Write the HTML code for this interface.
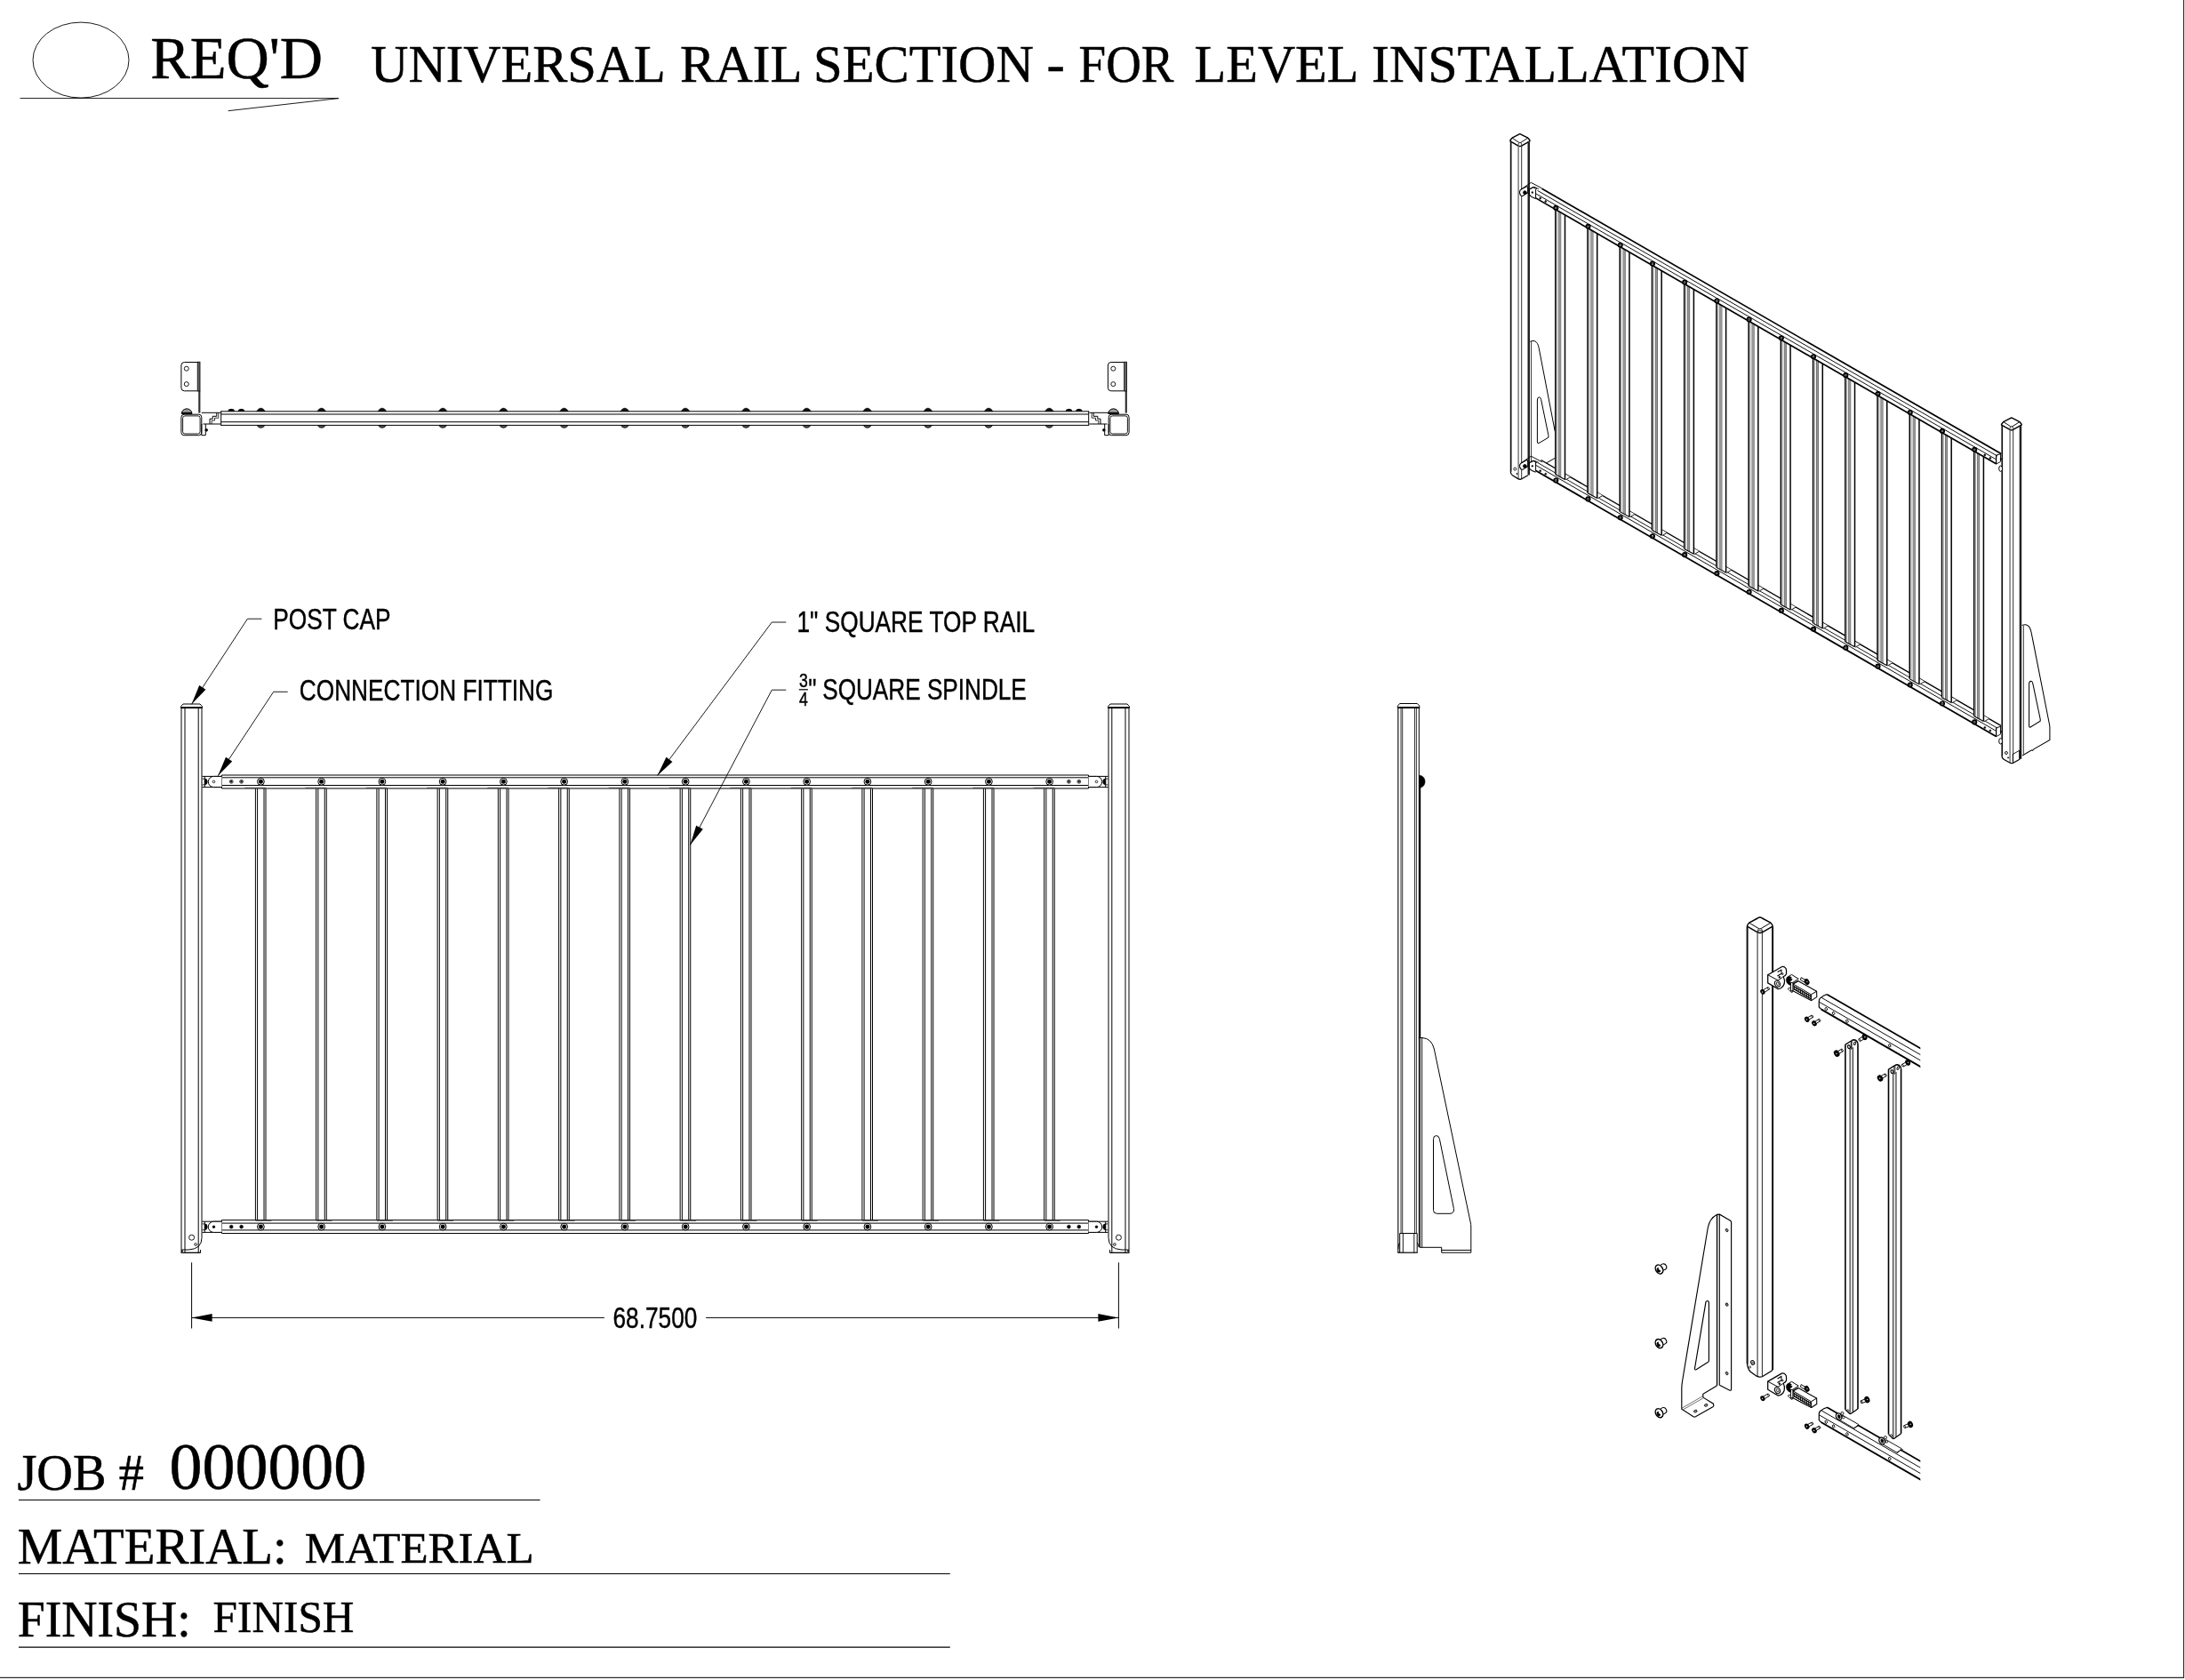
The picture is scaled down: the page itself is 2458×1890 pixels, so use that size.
<!DOCTYPE html>
<html><head><meta charset="utf-8"><title>Universal Rail Section</title>
<style>
html,body{margin:0;padding:0;background:#fff;}
body{width:2458px;height:1890px;overflow:hidden;font-family:"Liberation Sans",sans-serif;}
svg{display:block;position:absolute;left:0;top:0;will-change:transform;}
svg text{fill:#000;}
</style></head><body>
<svg width="2458" height="1890" viewBox="0 0 2458 1890">
<rect x="0" y="0" width="2458" height="1890" fill="#fff"/>
<g id="part_main">
<line x1="2456.50" y1="0.00" x2="2456.50" y2="1887.50" stroke="#2a2a2a" stroke-width="1" />
<line x1="2457.50" y1="0.00" x2="2457.50" y2="1888.00" stroke="#ddd" stroke-width="1" />
<line x1="0.00" y1="1887.40" x2="2457.00" y2="1887.40" stroke="#2a2a2a" stroke-width="1.2" />
<ellipse cx="91.00" cy="67.60" rx="54" ry="42.5" stroke="#000" stroke-width="0.9" fill="none"/>
<line x1="22.50" y1="110.60" x2="381.00" y2="110.60" stroke="#000" stroke-width="0.9" />
<line x1="381.00" y1="110.60" x2="256.70" y2="124.70" stroke="#000" stroke-width="0.9" />
<text x="169.30" y="87.60" font-family="Liberation Serif" font-size="67.6" textLength="193.80" lengthAdjust="spacingAndGlyphs" stroke="#000" stroke-width="0.5">REQ'D</text>
<text x="417.10" y="92.30" font-family="Liberation Serif" font-size="59.5" textLength="331.80" lengthAdjust="spacingAndGlyphs" stroke="#000" stroke-width="0.5">UNIVERSAL</text>
<text x="765.10" y="92.30" font-family="Liberation Serif" font-size="59.5" textLength="137.30" lengthAdjust="spacingAndGlyphs" stroke="#000" stroke-width="0.5">RAIL</text>
<text x="915.10" y="92.30" font-family="Liberation Serif" font-size="59.5" textLength="247.80" lengthAdjust="spacingAndGlyphs" stroke="#000" stroke-width="0.5">SECTION</text>
<text x="1177.60" y="92.30" font-family="Liberation Serif" font-size="59.5" textLength="20.30" lengthAdjust="spacingAndGlyphs" stroke="#000" stroke-width="0.5">-</text>
<text x="1213.60" y="92.30" font-family="Liberation Serif" font-size="59.5" textLength="106.80" lengthAdjust="spacingAndGlyphs" stroke="#000" stroke-width="0.5">FOR</text>
<text x="1343.60" y="92.30" font-family="Liberation Serif" font-size="59.5" textLength="184.80" lengthAdjust="spacingAndGlyphs" stroke="#000" stroke-width="0.5">LEVEL</text>
<text x="1543.10" y="92.30" font-family="Liberation Serif" font-size="59.5" textLength="424.30" lengthAdjust="spacingAndGlyphs" stroke="#000" stroke-width="0.5">INSTALLATION</text>
<text x="19.40" y="1675.70" font-family="Liberation Serif" font-size="56.1" textLength="142.40" lengthAdjust="spacingAndGlyphs" stroke="#000" stroke-width="0.5">JOB #</text>
<text x="190.50" y="1675.30" font-family="Liberation Serif" font-size="73.3" textLength="221.80" lengthAdjust="spacingAndGlyphs" stroke="#000" stroke-width="0.5">000000</text>
<line x1="21.00" y1="1687.50" x2="607.60" y2="1687.50" stroke="#000" stroke-width="1.1" />
<text x="19.80" y="1758.60" font-family="Liberation Serif" font-size="56.0" textLength="303.00" lengthAdjust="spacingAndGlyphs" stroke="#000" stroke-width="0.5">MATERIAL:</text>
<text x="342.80" y="1758.30" font-family="Liberation Serif" font-size="49.3" textLength="257.80" lengthAdjust="spacingAndGlyphs" stroke="#000" stroke-width="0.5">MATERIAL</text>
<line x1="21.00" y1="1770.50" x2="1068.80" y2="1770.50" stroke="#000" stroke-width="1.15" />
<text x="19.80" y="1841.10" font-family="Liberation Serif" font-size="56.1" textLength="195.00" lengthAdjust="spacingAndGlyphs" stroke="#000" stroke-width="0.5">FINISH:</text>
<text x="239.60" y="1836.10" font-family="Liberation Serif" font-size="49.7" textLength="158.80" lengthAdjust="spacingAndGlyphs" stroke="#000" stroke-width="0.5">FINISH</text>
<line x1="21.00" y1="1853.10" x2="1068.80" y2="1853.10" stroke="#000" stroke-width="1.1" />
<line x1="204.00" y1="796.50" x2="204.00" y2="1409.30" stroke="#000" stroke-width="1" />
<line x1="208.00" y1="796.50" x2="208.00" y2="1409.30" stroke="#000" stroke-width="1" />
<line x1="223.20" y1="796.50" x2="223.20" y2="1409.30" stroke="#000" stroke-width="1" />
<line x1="227.00" y1="796.50" x2="227.00" y2="1386.70" stroke="#000" stroke-width="1" />
<path d="M203.60,796.6 L203.60,794.6 L206.00,792 L225.00,792 L227.40,794.6 L227.40,796.6 Z" stroke="#000" stroke-width="1" fill="none" />
<line x1="203.60" y1="795.90" x2="227.40" y2="795.90" stroke="#000" stroke-width="1.6" />
<path d="M227.00,1386.7 L227.00,1392.5 Q227.00,1405.2 212.00,1406 L204.00,1406" stroke="#000" stroke-width="1" fill="none" />
<line x1="203.60" y1="1409.30" x2="225.60" y2="1409.30" stroke="#000" stroke-width="1.3" />
<line x1="225.50" y1="1406.00" x2="225.50" y2="1409.30" stroke="#000" stroke-width="1" />
<line x1="204.00" y1="1407.40" x2="206.00" y2="1407.40" stroke="#000" stroke-width="1.4" />
<circle cx="215.60" cy="1392.20" r="3.0" stroke="#000" stroke-width="0.9" fill="none"/>
<circle cx="220.10" cy="1400.00" r="1.4" stroke="#000" stroke-width="0.8" fill="none"/>
<line x1="1270.00" y1="796.50" x2="1270.00" y2="1409.30" stroke="#000" stroke-width="1" />
<line x1="1266.00" y1="796.50" x2="1266.00" y2="1409.30" stroke="#000" stroke-width="1" />
<line x1="1250.80" y1="796.50" x2="1250.80" y2="1409.30" stroke="#000" stroke-width="1" />
<line x1="1247.00" y1="796.50" x2="1247.00" y2="1386.70" stroke="#000" stroke-width="1" />
<path d="M1270.40,796.6 L1270.40,794.6 L1268.00,792 L1249.00,792 L1246.60,794.6 L1246.60,796.6 Z" stroke="#000" stroke-width="1" fill="none" />
<line x1="1270.40" y1="795.90" x2="1246.60" y2="795.90" stroke="#000" stroke-width="1.6" />
<path d="M1247.00,1386.7 L1247.00,1392.5 Q1247.00,1405.2 1262.00,1406 L1270.00,1406" stroke="#000" stroke-width="1" fill="none" />
<line x1="1270.40" y1="1409.30" x2="1248.40" y2="1409.30" stroke="#000" stroke-width="1.3" />
<line x1="1248.50" y1="1406.00" x2="1248.50" y2="1409.30" stroke="#000" stroke-width="1" />
<line x1="1270.00" y1="1407.40" x2="1268.00" y2="1407.40" stroke="#000" stroke-width="1.4" />
<circle cx="1258.40" cy="1392.20" r="3.0" stroke="#000" stroke-width="0.9" fill="none"/>
<circle cx="1253.90" cy="1400.00" r="1.4" stroke="#000" stroke-width="0.8" fill="none"/>
<line x1="249.50" y1="872.00" x2="1224.50" y2="872.00" stroke="#000" stroke-width="1" />
<line x1="249.50" y1="874.80" x2="1224.50" y2="874.80" stroke="#000" stroke-width="1" />
<line x1="249.50" y1="883.50" x2="1224.50" y2="883.50" stroke="#000" stroke-width="1" />
<line x1="249.50" y1="887.00" x2="1224.50" y2="887.00" stroke="#000" stroke-width="1" />
<line x1="249.50" y1="872.00" x2="249.50" y2="887.00" stroke="#000" stroke-width="1" />
<line x1="1224.50" y1="872.00" x2="1224.50" y2="887.00" stroke="#000" stroke-width="1" />
<line x1="249.50" y1="1372.60" x2="1224.50" y2="1372.60" stroke="#000" stroke-width="1" />
<line x1="249.50" y1="1376.10" x2="1224.50" y2="1376.10" stroke="#000" stroke-width="1" />
<line x1="249.50" y1="1383.90" x2="1224.50" y2="1383.90" stroke="#000" stroke-width="1" />
<line x1="249.50" y1="1387.50" x2="1224.50" y2="1387.50" stroke="#000" stroke-width="1" />
<line x1="249.50" y1="1372.60" x2="249.50" y2="1387.50" stroke="#000" stroke-width="1" />
<line x1="1224.50" y1="1372.60" x2="1224.50" y2="1387.50" stroke="#000" stroke-width="1" />
<line x1="287.40" y1="887.20" x2="287.40" y2="1372.50" stroke="#000" stroke-width="1" />
<line x1="289.60" y1="887.20" x2="289.60" y2="1372.50" stroke="#000" stroke-width="1" />
<line x1="297.00" y1="887.20" x2="297.00" y2="1372.50" stroke="#000" stroke-width="1" />
<line x1="299.00" y1="887.20" x2="299.00" y2="1372.50" stroke="#000" stroke-width="1" />
<line x1="275.40" y1="886.20" x2="299.00" y2="886.20" stroke="#333" stroke-width="0.8" />
<line x1="287.40" y1="1373.30" x2="305.40" y2="1373.30" stroke="#333" stroke-width="0.8" />
<line x1="355.65" y1="887.20" x2="355.65" y2="1372.50" stroke="#000" stroke-width="1" />
<line x1="357.85" y1="887.20" x2="357.85" y2="1372.50" stroke="#000" stroke-width="1" />
<line x1="365.25" y1="887.20" x2="365.25" y2="1372.50" stroke="#000" stroke-width="1" />
<line x1="367.25" y1="887.20" x2="367.25" y2="1372.50" stroke="#000" stroke-width="1" />
<line x1="343.65" y1="886.20" x2="367.25" y2="886.20" stroke="#333" stroke-width="0.8" />
<line x1="355.65" y1="1373.30" x2="373.65" y2="1373.30" stroke="#333" stroke-width="0.8" />
<line x1="423.90" y1="887.20" x2="423.90" y2="1372.50" stroke="#000" stroke-width="1" />
<line x1="426.10" y1="887.20" x2="426.10" y2="1372.50" stroke="#000" stroke-width="1" />
<line x1="433.50" y1="887.20" x2="433.50" y2="1372.50" stroke="#000" stroke-width="1" />
<line x1="435.50" y1="887.20" x2="435.50" y2="1372.50" stroke="#000" stroke-width="1" />
<line x1="411.90" y1="886.20" x2="435.50" y2="886.20" stroke="#333" stroke-width="0.8" />
<line x1="423.90" y1="1373.30" x2="441.90" y2="1373.30" stroke="#333" stroke-width="0.8" />
<line x1="492.15" y1="887.20" x2="492.15" y2="1372.50" stroke="#000" stroke-width="1" />
<line x1="494.35" y1="887.20" x2="494.35" y2="1372.50" stroke="#000" stroke-width="1" />
<line x1="501.75" y1="887.20" x2="501.75" y2="1372.50" stroke="#000" stroke-width="1" />
<line x1="503.75" y1="887.20" x2="503.75" y2="1372.50" stroke="#000" stroke-width="1" />
<line x1="480.15" y1="886.20" x2="503.75" y2="886.20" stroke="#333" stroke-width="0.8" />
<line x1="492.15" y1="1373.30" x2="510.15" y2="1373.30" stroke="#333" stroke-width="0.8" />
<line x1="560.40" y1="887.20" x2="560.40" y2="1372.50" stroke="#000" stroke-width="1" />
<line x1="562.60" y1="887.20" x2="562.60" y2="1372.50" stroke="#000" stroke-width="1" />
<line x1="570.00" y1="887.20" x2="570.00" y2="1372.50" stroke="#000" stroke-width="1" />
<line x1="572.00" y1="887.20" x2="572.00" y2="1372.50" stroke="#000" stroke-width="1" />
<line x1="548.40" y1="886.20" x2="572.00" y2="886.20" stroke="#333" stroke-width="0.8" />
<line x1="560.40" y1="1373.30" x2="578.40" y2="1373.30" stroke="#333" stroke-width="0.8" />
<line x1="628.65" y1="887.20" x2="628.65" y2="1372.50" stroke="#000" stroke-width="1" />
<line x1="630.85" y1="887.20" x2="630.85" y2="1372.50" stroke="#000" stroke-width="1" />
<line x1="638.25" y1="887.20" x2="638.25" y2="1372.50" stroke="#000" stroke-width="1" />
<line x1="640.25" y1="887.20" x2="640.25" y2="1372.50" stroke="#000" stroke-width="1" />
<line x1="616.65" y1="886.20" x2="640.25" y2="886.20" stroke="#333" stroke-width="0.8" />
<line x1="628.65" y1="1373.30" x2="646.65" y2="1373.30" stroke="#333" stroke-width="0.8" />
<line x1="696.90" y1="887.20" x2="696.90" y2="1372.50" stroke="#000" stroke-width="1" />
<line x1="699.10" y1="887.20" x2="699.10" y2="1372.50" stroke="#000" stroke-width="1" />
<line x1="706.50" y1="887.20" x2="706.50" y2="1372.50" stroke="#000" stroke-width="1" />
<line x1="708.50" y1="887.20" x2="708.50" y2="1372.50" stroke="#000" stroke-width="1" />
<line x1="684.90" y1="886.20" x2="708.50" y2="886.20" stroke="#333" stroke-width="0.8" />
<line x1="696.90" y1="1373.30" x2="714.90" y2="1373.30" stroke="#333" stroke-width="0.8" />
<line x1="765.15" y1="887.20" x2="765.15" y2="1372.50" stroke="#000" stroke-width="1" />
<line x1="767.35" y1="887.20" x2="767.35" y2="1372.50" stroke="#000" stroke-width="1" />
<line x1="774.75" y1="887.20" x2="774.75" y2="1372.50" stroke="#000" stroke-width="1" />
<line x1="776.75" y1="887.20" x2="776.75" y2="1372.50" stroke="#000" stroke-width="1" />
<line x1="753.15" y1="886.20" x2="776.75" y2="886.20" stroke="#333" stroke-width="0.8" />
<line x1="765.15" y1="1373.30" x2="783.15" y2="1373.30" stroke="#333" stroke-width="0.8" />
<line x1="833.40" y1="887.20" x2="833.40" y2="1372.50" stroke="#000" stroke-width="1" />
<line x1="835.60" y1="887.20" x2="835.60" y2="1372.50" stroke="#000" stroke-width="1" />
<line x1="843.00" y1="887.20" x2="843.00" y2="1372.50" stroke="#000" stroke-width="1" />
<line x1="845.00" y1="887.20" x2="845.00" y2="1372.50" stroke="#000" stroke-width="1" />
<line x1="821.40" y1="886.20" x2="845.00" y2="886.20" stroke="#333" stroke-width="0.8" />
<line x1="833.40" y1="1373.30" x2="851.40" y2="1373.30" stroke="#333" stroke-width="0.8" />
<line x1="901.65" y1="887.20" x2="901.65" y2="1372.50" stroke="#000" stroke-width="1" />
<line x1="903.85" y1="887.20" x2="903.85" y2="1372.50" stroke="#000" stroke-width="1" />
<line x1="911.25" y1="887.20" x2="911.25" y2="1372.50" stroke="#000" stroke-width="1" />
<line x1="913.25" y1="887.20" x2="913.25" y2="1372.50" stroke="#000" stroke-width="1" />
<line x1="889.65" y1="886.20" x2="913.25" y2="886.20" stroke="#333" stroke-width="0.8" />
<line x1="901.65" y1="1373.30" x2="919.65" y2="1373.30" stroke="#333" stroke-width="0.8" />
<line x1="969.90" y1="887.20" x2="969.90" y2="1372.50" stroke="#000" stroke-width="1" />
<line x1="972.10" y1="887.20" x2="972.10" y2="1372.50" stroke="#000" stroke-width="1" />
<line x1="979.50" y1="887.20" x2="979.50" y2="1372.50" stroke="#000" stroke-width="1" />
<line x1="981.50" y1="887.20" x2="981.50" y2="1372.50" stroke="#000" stroke-width="1" />
<line x1="957.90" y1="886.20" x2="981.50" y2="886.20" stroke="#333" stroke-width="0.8" />
<line x1="969.90" y1="1373.30" x2="987.90" y2="1373.30" stroke="#333" stroke-width="0.8" />
<line x1="1038.15" y1="887.20" x2="1038.15" y2="1372.50" stroke="#000" stroke-width="1" />
<line x1="1040.35" y1="887.20" x2="1040.35" y2="1372.50" stroke="#000" stroke-width="1" />
<line x1="1047.75" y1="887.20" x2="1047.75" y2="1372.50" stroke="#000" stroke-width="1" />
<line x1="1049.75" y1="887.20" x2="1049.75" y2="1372.50" stroke="#000" stroke-width="1" />
<line x1="1026.15" y1="886.20" x2="1049.75" y2="886.20" stroke="#333" stroke-width="0.8" />
<line x1="1038.15" y1="1373.30" x2="1056.15" y2="1373.30" stroke="#333" stroke-width="0.8" />
<line x1="1106.40" y1="887.20" x2="1106.40" y2="1372.50" stroke="#000" stroke-width="1" />
<line x1="1108.60" y1="887.20" x2="1108.60" y2="1372.50" stroke="#000" stroke-width="1" />
<line x1="1116.00" y1="887.20" x2="1116.00" y2="1372.50" stroke="#000" stroke-width="1" />
<line x1="1118.00" y1="887.20" x2="1118.00" y2="1372.50" stroke="#000" stroke-width="1" />
<line x1="1094.40" y1="886.20" x2="1118.00" y2="886.20" stroke="#333" stroke-width="0.8" />
<line x1="1106.40" y1="1373.30" x2="1124.40" y2="1373.30" stroke="#333" stroke-width="0.8" />
<line x1="1174.65" y1="887.20" x2="1174.65" y2="1372.50" stroke="#000" stroke-width="1" />
<line x1="1176.85" y1="887.20" x2="1176.85" y2="1372.50" stroke="#000" stroke-width="1" />
<line x1="1184.25" y1="887.20" x2="1184.25" y2="1372.50" stroke="#000" stroke-width="1" />
<line x1="1186.25" y1="887.20" x2="1186.25" y2="1372.50" stroke="#000" stroke-width="1" />
<line x1="1162.65" y1="886.20" x2="1186.25" y2="886.20" stroke="#333" stroke-width="0.8" />
<line x1="1174.65" y1="1373.30" x2="1192.65" y2="1373.30" stroke="#333" stroke-width="0.8" />
<circle cx="293.40" cy="879.30" r="3.9" stroke="#000" stroke-width="1.0" fill="#fff"/>
<circle cx="293.40" cy="879.30" r="2.3" stroke="#000" stroke-width="0.5" fill="#000"/>
<circle cx="361.65" cy="879.30" r="3.9" stroke="#000" stroke-width="1.0" fill="#fff"/>
<circle cx="361.65" cy="879.30" r="2.3" stroke="#000" stroke-width="0.5" fill="#000"/>
<circle cx="429.90" cy="879.30" r="3.9" stroke="#000" stroke-width="1.0" fill="#fff"/>
<circle cx="429.90" cy="879.30" r="2.3" stroke="#000" stroke-width="0.5" fill="#000"/>
<circle cx="498.15" cy="879.30" r="3.9" stroke="#000" stroke-width="1.0" fill="#fff"/>
<circle cx="498.15" cy="879.30" r="2.3" stroke="#000" stroke-width="0.5" fill="#000"/>
<circle cx="566.40" cy="879.30" r="3.9" stroke="#000" stroke-width="1.0" fill="#fff"/>
<circle cx="566.40" cy="879.30" r="2.3" stroke="#000" stroke-width="0.5" fill="#000"/>
<circle cx="634.65" cy="879.30" r="3.9" stroke="#000" stroke-width="1.0" fill="#fff"/>
<circle cx="634.65" cy="879.30" r="2.3" stroke="#000" stroke-width="0.5" fill="#000"/>
<circle cx="702.90" cy="879.30" r="3.9" stroke="#000" stroke-width="1.0" fill="#fff"/>
<circle cx="702.90" cy="879.30" r="2.3" stroke="#000" stroke-width="0.5" fill="#000"/>
<circle cx="771.15" cy="879.30" r="3.9" stroke="#000" stroke-width="1.0" fill="#fff"/>
<circle cx="771.15" cy="879.30" r="2.3" stroke="#000" stroke-width="0.5" fill="#000"/>
<circle cx="839.40" cy="879.30" r="3.9" stroke="#000" stroke-width="1.0" fill="#fff"/>
<circle cx="839.40" cy="879.30" r="2.3" stroke="#000" stroke-width="0.5" fill="#000"/>
<circle cx="907.65" cy="879.30" r="3.9" stroke="#000" stroke-width="1.0" fill="#fff"/>
<circle cx="907.65" cy="879.30" r="2.3" stroke="#000" stroke-width="0.5" fill="#000"/>
<circle cx="975.90" cy="879.30" r="3.9" stroke="#000" stroke-width="1.0" fill="#fff"/>
<circle cx="975.90" cy="879.30" r="2.3" stroke="#000" stroke-width="0.5" fill="#000"/>
<circle cx="1044.15" cy="879.30" r="3.9" stroke="#000" stroke-width="1.0" fill="#fff"/>
<circle cx="1044.15" cy="879.30" r="2.3" stroke="#000" stroke-width="0.5" fill="#000"/>
<circle cx="1112.40" cy="879.30" r="3.9" stroke="#000" stroke-width="1.0" fill="#fff"/>
<circle cx="1112.40" cy="879.30" r="2.3" stroke="#000" stroke-width="0.5" fill="#000"/>
<circle cx="1180.65" cy="879.30" r="3.9" stroke="#000" stroke-width="1.0" fill="#fff"/>
<circle cx="1180.65" cy="879.30" r="2.3" stroke="#000" stroke-width="0.5" fill="#000"/>
<circle cx="260.20" cy="879.30" r="1.9" stroke="#000" stroke-width="0.8" fill="#fff"/>
<circle cx="260.20" cy="879.30" r="1.05" stroke="#000" stroke-width="0.3" fill="#000"/>
<circle cx="271.60" cy="879.30" r="1.9" stroke="#000" stroke-width="0.8" fill="#fff"/>
<circle cx="271.60" cy="879.30" r="1.05" stroke="#000" stroke-width="0.3" fill="#000"/>
<circle cx="1213.80" cy="879.30" r="1.9" stroke="#000" stroke-width="0.8" fill="#fff"/>
<circle cx="1213.80" cy="879.30" r="1.05" stroke="#000" stroke-width="0.3" fill="#000"/>
<circle cx="1202.40" cy="879.30" r="1.9" stroke="#000" stroke-width="0.8" fill="#fff"/>
<circle cx="1202.40" cy="879.30" r="1.05" stroke="#000" stroke-width="0.3" fill="#000"/>
<circle cx="293.40" cy="1380.10" r="3.9" stroke="#000" stroke-width="1.0" fill="#fff"/>
<circle cx="293.40" cy="1380.10" r="2.3" stroke="#000" stroke-width="0.5" fill="#000"/>
<circle cx="361.65" cy="1380.10" r="3.9" stroke="#000" stroke-width="1.0" fill="#fff"/>
<circle cx="361.65" cy="1380.10" r="2.3" stroke="#000" stroke-width="0.5" fill="#000"/>
<circle cx="429.90" cy="1380.10" r="3.9" stroke="#000" stroke-width="1.0" fill="#fff"/>
<circle cx="429.90" cy="1380.10" r="2.3" stroke="#000" stroke-width="0.5" fill="#000"/>
<circle cx="498.15" cy="1380.10" r="3.9" stroke="#000" stroke-width="1.0" fill="#fff"/>
<circle cx="498.15" cy="1380.10" r="2.3" stroke="#000" stroke-width="0.5" fill="#000"/>
<circle cx="566.40" cy="1380.10" r="3.9" stroke="#000" stroke-width="1.0" fill="#fff"/>
<circle cx="566.40" cy="1380.10" r="2.3" stroke="#000" stroke-width="0.5" fill="#000"/>
<circle cx="634.65" cy="1380.10" r="3.9" stroke="#000" stroke-width="1.0" fill="#fff"/>
<circle cx="634.65" cy="1380.10" r="2.3" stroke="#000" stroke-width="0.5" fill="#000"/>
<circle cx="702.90" cy="1380.10" r="3.9" stroke="#000" stroke-width="1.0" fill="#fff"/>
<circle cx="702.90" cy="1380.10" r="2.3" stroke="#000" stroke-width="0.5" fill="#000"/>
<circle cx="771.15" cy="1380.10" r="3.9" stroke="#000" stroke-width="1.0" fill="#fff"/>
<circle cx="771.15" cy="1380.10" r="2.3" stroke="#000" stroke-width="0.5" fill="#000"/>
<circle cx="839.40" cy="1380.10" r="3.9" stroke="#000" stroke-width="1.0" fill="#fff"/>
<circle cx="839.40" cy="1380.10" r="2.3" stroke="#000" stroke-width="0.5" fill="#000"/>
<circle cx="907.65" cy="1380.10" r="3.9" stroke="#000" stroke-width="1.0" fill="#fff"/>
<circle cx="907.65" cy="1380.10" r="2.3" stroke="#000" stroke-width="0.5" fill="#000"/>
<circle cx="975.90" cy="1380.10" r="3.9" stroke="#000" stroke-width="1.0" fill="#fff"/>
<circle cx="975.90" cy="1380.10" r="2.3" stroke="#000" stroke-width="0.5" fill="#000"/>
<circle cx="1044.15" cy="1380.10" r="3.9" stroke="#000" stroke-width="1.0" fill="#fff"/>
<circle cx="1044.15" cy="1380.10" r="2.3" stroke="#000" stroke-width="0.5" fill="#000"/>
<circle cx="1112.40" cy="1380.10" r="3.9" stroke="#000" stroke-width="1.0" fill="#fff"/>
<circle cx="1112.40" cy="1380.10" r="2.3" stroke="#000" stroke-width="0.5" fill="#000"/>
<circle cx="1180.65" cy="1380.10" r="3.9" stroke="#000" stroke-width="1.0" fill="#fff"/>
<circle cx="1180.65" cy="1380.10" r="2.3" stroke="#000" stroke-width="0.5" fill="#000"/>
<circle cx="260.20" cy="1380.10" r="1.9" stroke="#000" stroke-width="0.6" fill="#000"/>
<circle cx="271.60" cy="1380.10" r="1.9" stroke="#000" stroke-width="0.6" fill="#000"/>
<circle cx="1213.80" cy="1380.10" r="1.9" stroke="#000" stroke-width="0.6" fill="#000"/>
<circle cx="1202.40" cy="1380.10" r="1.9" stroke="#000" stroke-width="0.6" fill="#000"/>
<line x1="227.40" y1="873.40" x2="249.50" y2="873.40" stroke="#000" stroke-width="1" />
<line x1="227.40" y1="885.60" x2="249.50" y2="885.60" stroke="#000" stroke-width="1" />
<line x1="230.30" y1="873.40" x2="230.30" y2="885.60" stroke="#000" stroke-width="1" />
<line x1="227.40" y1="876.10" x2="230.30" y2="876.10" stroke="#000" stroke-width="0.8" />
<line x1="227.40" y1="882.90" x2="230.30" y2="882.90" stroke="#000" stroke-width="0.8" />
<path d="M230.30,876.00 A3,3.4 0 0 1 230.30,882.80 Z" stroke="#000" stroke-width="0.5" fill="#000" />
<path d="M249.50,873.40 L240.40,873.40 A6.1,6.1 0 0 0 240.40,885.60 L249.50,885.60" stroke="#000" stroke-width="1" fill="#fff" />
<circle cx="240.50" cy="879.40" r="1.3" stroke="#000" stroke-width="0.8" fill="none"/>
<line x1="1246.60" y1="873.40" x2="1224.50" y2="873.40" stroke="#000" stroke-width="1" />
<line x1="1246.60" y1="885.60" x2="1224.50" y2="885.60" stroke="#000" stroke-width="1" />
<line x1="1243.70" y1="873.40" x2="1243.70" y2="885.60" stroke="#000" stroke-width="1" />
<line x1="1246.60" y1="876.10" x2="1243.70" y2="876.10" stroke="#000" stroke-width="0.8" />
<line x1="1246.60" y1="882.90" x2="1243.70" y2="882.90" stroke="#000" stroke-width="0.8" />
<path d="M1243.70,876.00 A3,3.4 0 0 0 1243.70,882.80 Z" stroke="#000" stroke-width="0.5" fill="#000" />
<path d="M1224.50,873.40 L1233.60,873.40 A6.1,6.1 0 0 1 1233.60,885.60 L1224.50,885.60" stroke="#000" stroke-width="1" fill="#fff" />
<circle cx="1233.50" cy="879.40" r="1.3" stroke="#000" stroke-width="0.8" fill="none"/>
<line x1="227.40" y1="1374.20" x2="249.50" y2="1374.20" stroke="#000" stroke-width="1" />
<line x1="227.40" y1="1386.40" x2="249.50" y2="1386.40" stroke="#000" stroke-width="1" />
<line x1="230.30" y1="1374.20" x2="230.30" y2="1386.40" stroke="#000" stroke-width="1" />
<line x1="227.40" y1="1376.90" x2="230.30" y2="1376.90" stroke="#000" stroke-width="0.8" />
<line x1="227.40" y1="1383.70" x2="230.30" y2="1383.70" stroke="#000" stroke-width="0.8" />
<path d="M230.30,1376.80 A3,3.4 0 0 1 230.30,1383.60 Z" stroke="#000" stroke-width="0.5" fill="#000" />
<path d="M249.50,1374.20 L240.40,1374.20 A6.1,6.1 0 0 0 240.40,1386.40 L249.50,1386.40" stroke="#000" stroke-width="1" fill="#fff" />
<circle cx="240.50" cy="1380.20" r="1.3" stroke="#000" stroke-width="0.8" fill="#000"/>
<line x1="1246.60" y1="1374.20" x2="1224.50" y2="1374.20" stroke="#000" stroke-width="1" />
<line x1="1246.60" y1="1386.40" x2="1224.50" y2="1386.40" stroke="#000" stroke-width="1" />
<line x1="1243.70" y1="1374.20" x2="1243.70" y2="1386.40" stroke="#000" stroke-width="1" />
<line x1="1246.60" y1="1376.90" x2="1243.70" y2="1376.90" stroke="#000" stroke-width="0.8" />
<line x1="1246.60" y1="1383.70" x2="1243.70" y2="1383.70" stroke="#000" stroke-width="0.8" />
<path d="M1243.70,1376.80 A3,3.4 0 0 0 1243.70,1383.60 Z" stroke="#000" stroke-width="0.5" fill="#000" />
<path d="M1224.50,1374.20 L1233.60,1374.20 A6.1,6.1 0 0 1 1233.60,1386.40 L1224.50,1386.40" stroke="#000" stroke-width="1" fill="#fff" />
<circle cx="1233.50" cy="1380.20" r="1.3" stroke="#000" stroke-width="0.8" fill="#000"/>
<line x1="294.40" y1="696.20" x2="278.40" y2="696.20" stroke="#000" stroke-width="0.9" />
<line x1="278.40" y1="696.20" x2="215.50" y2="792.30" stroke="#000" stroke-width="0.9" />
<polygon points="215.50,792.30 231.42,775.83 224.22,771.12" fill="#000"/>
<line x1="323.70" y1="778.30" x2="307.70" y2="778.30" stroke="#000" stroke-width="0.9" />
<line x1="307.70" y1="778.30" x2="245.20" y2="872.80" stroke="#000" stroke-width="0.9" />
<polygon points="245.20,872.80 261.20,856.41 254.03,851.66" fill="#000"/>
<line x1="884.30" y1="700.00" x2="868.30" y2="700.00" stroke="#000" stroke-width="0.9" />
<line x1="868.30" y1="700.00" x2="739.50" y2="872.40" stroke="#000" stroke-width="0.9" />
<polygon points="739.50,872.40 756.41,856.95 749.52,851.80" fill="#000"/>
<line x1="884.30" y1="776.20" x2="868.30" y2="776.20" stroke="#000" stroke-width="0.9" />
<line x1="868.30" y1="776.20" x2="776.50" y2="950.60" stroke="#000" stroke-width="0.9" />
<polygon points="776.50,950.60 790.79,932.69 783.18,928.69" fill="#000"/>
<text x="307.30" y="707.80" font-family="Liberation Sans" font-size="33.4" textLength="132.20" lengthAdjust="spacingAndGlyphs" stroke="#000" stroke-width="0.45">POST CAP</text>
<text x="336.80" y="788.30" font-family="Liberation Sans" font-size="33.4" textLength="285.60" lengthAdjust="spacingAndGlyphs" stroke="#000" stroke-width="0.45">CONNECTION FITTING</text>
<text x="896.50" y="711.00" font-family="Liberation Sans" font-size="33.4" textLength="267.60" lengthAdjust="spacingAndGlyphs" stroke="#000" stroke-width="0.45">1" SQUARE TOP RAIL</text>
<text x="925.20" y="786.70" font-family="Liberation Sans" font-size="33.4" textLength="229.60" lengthAdjust="spacingAndGlyphs" stroke="#000" stroke-width="0.45">SQUARE SPINDLE</text>
<text x="898.90" y="772.80" font-family="Liberation Sans" font-size="22.4" textLength="9.80" lengthAdjust="spacingAndGlyphs" stroke="#000" stroke-width="0.45">3</text>
<text x="898.90" y="793.90" font-family="Liberation Sans" font-size="22.4" textLength="9.80" lengthAdjust="spacingAndGlyphs" stroke="#000" stroke-width="0.45">4</text>
<line x1="898.80" y1="775.80" x2="908.90" y2="775.80" stroke="#000" stroke-width="1.25" />
<text x="909.30" y="786.70" font-family="Liberation Sans" font-size="33.4" textLength="9.20" lengthAdjust="spacingAndGlyphs" stroke="#000" stroke-width="0.45">"</text>
<line x1="215.60" y1="1420.30" x2="215.60" y2="1494.50" stroke="#000" stroke-width="1" />
<line x1="1258.40" y1="1420.30" x2="1258.40" y2="1494.50" stroke="#000" stroke-width="1" />
<line x1="215.60" y1="1482.40" x2="679.90" y2="1482.40" stroke="#000" stroke-width="1" />
<line x1="794.10" y1="1482.40" x2="1258.40" y2="1482.40" stroke="#000" stroke-width="1" />
<polygon points="215.60,1482.40 238.60,1486.70 238.60,1478.10" fill="#000"/>
<polygon points="1258.40,1482.40 1235.40,1478.10 1235.40,1486.70" fill="#000"/>
<text x="689.50" y="1494.20" font-family="Liberation Sans" font-size="33.4" textLength="94.80" lengthAdjust="spacingAndGlyphs" stroke="#000" stroke-width="0.45">68.7500</text>
<line x1="248.70" y1="462.80" x2="1224.70" y2="462.80" stroke="#000" stroke-width="1" />
<line x1="248.70" y1="466.00" x2="1224.70" y2="466.00" stroke="#000" stroke-width="1" />
<line x1="248.70" y1="474.70" x2="1224.70" y2="474.70" stroke="#000" stroke-width="1" />
<line x1="248.70" y1="478.40" x2="1224.70" y2="478.40" stroke="#000" stroke-width="1" />
<line x1="248.70" y1="462.30" x2="248.70" y2="478.90" stroke="#000" stroke-width="1" />
<line x1="1224.70" y1="462.30" x2="1224.70" y2="478.90" stroke="#000" stroke-width="1" />
<path d="M288.60,462.7 Q289.90,460.6 291.70,459.5 Q293.50,458.5 295.30,459.5 Q297.10,460.6 298.40,462.7 Z" stroke="#000" stroke-width="0.4" fill="#111" />
<path d="M289.30,478.6 Q290.30,481.2 293.50,481.3 Q296.70,481.2 297.70,478.6 Z" stroke="#000" stroke-width="0.9" fill="#555" />
<path d="M356.82,462.7 Q358.12,460.6 359.92,459.5 Q361.72,458.5 363.52,459.5 Q365.32,460.6 366.62,462.7 Z" stroke="#000" stroke-width="0.4" fill="#111" />
<path d="M357.52,478.6 Q358.52,481.2 361.72,481.3 Q364.92,481.2 365.92,478.6 Z" stroke="#000" stroke-width="0.9" fill="#555" />
<path d="M425.04,462.7 Q426.34,460.6 428.14,459.5 Q429.94,458.5 431.74,459.5 Q433.54,460.6 434.84,462.7 Z" stroke="#000" stroke-width="0.4" fill="#111" />
<path d="M425.74,478.6 Q426.74,481.2 429.94,481.3 Q433.14,481.2 434.14,478.6 Z" stroke="#000" stroke-width="0.9" fill="#555" />
<path d="M493.26,462.7 Q494.56,460.6 496.36,459.5 Q498.16,458.5 499.96,459.5 Q501.76,460.6 503.06,462.7 Z" stroke="#000" stroke-width="0.4" fill="#111" />
<path d="M493.96,478.6 Q494.96,481.2 498.16,481.3 Q501.36,481.2 502.36,478.6 Z" stroke="#000" stroke-width="0.9" fill="#555" />
<path d="M561.48,462.7 Q562.78,460.6 564.58,459.5 Q566.38,458.5 568.18,459.5 Q569.98,460.6 571.28,462.7 Z" stroke="#000" stroke-width="0.4" fill="#111" />
<path d="M562.18,478.6 Q563.18,481.2 566.38,481.3 Q569.58,481.2 570.58,478.6 Z" stroke="#000" stroke-width="0.9" fill="#555" />
<path d="M629.70,462.7 Q631.00,460.6 632.80,459.5 Q634.60,458.5 636.40,459.5 Q638.20,460.6 639.50,462.7 Z" stroke="#000" stroke-width="0.4" fill="#111" />
<path d="M630.40,478.6 Q631.40,481.2 634.60,481.3 Q637.80,481.2 638.80,478.6 Z" stroke="#000" stroke-width="0.9" fill="#555" />
<path d="M697.92,462.7 Q699.22,460.6 701.02,459.5 Q702.82,458.5 704.62,459.5 Q706.42,460.6 707.72,462.7 Z" stroke="#000" stroke-width="0.4" fill="#111" />
<path d="M698.62,478.6 Q699.62,481.2 702.82,481.3 Q706.02,481.2 707.02,478.6 Z" stroke="#000" stroke-width="0.9" fill="#555" />
<path d="M766.14,462.7 Q767.44,460.6 769.24,459.5 Q771.04,458.5 772.84,459.5 Q774.64,460.6 775.94,462.7 Z" stroke="#000" stroke-width="0.4" fill="#111" />
<path d="M766.84,478.6 Q767.84,481.2 771.04,481.3 Q774.24,481.2 775.24,478.6 Z" stroke="#000" stroke-width="0.9" fill="#555" />
<path d="M834.36,462.7 Q835.66,460.6 837.46,459.5 Q839.26,458.5 841.06,459.5 Q842.86,460.6 844.16,462.7 Z" stroke="#000" stroke-width="0.4" fill="#111" />
<path d="M835.06,478.6 Q836.06,481.2 839.26,481.3 Q842.46,481.2 843.46,478.6 Z" stroke="#000" stroke-width="0.9" fill="#555" />
<path d="M902.58,462.7 Q903.88,460.6 905.68,459.5 Q907.48,458.5 909.28,459.5 Q911.08,460.6 912.38,462.7 Z" stroke="#000" stroke-width="0.4" fill="#111" />
<path d="M903.28,478.6 Q904.28,481.2 907.48,481.3 Q910.68,481.2 911.68,478.6 Z" stroke="#000" stroke-width="0.9" fill="#555" />
<path d="M970.80,462.7 Q972.10,460.6 973.90,459.5 Q975.70,458.5 977.50,459.5 Q979.30,460.6 980.60,462.7 Z" stroke="#000" stroke-width="0.4" fill="#111" />
<path d="M971.50,478.6 Q972.50,481.2 975.70,481.3 Q978.90,481.2 979.90,478.6 Z" stroke="#000" stroke-width="0.9" fill="#555" />
<path d="M1039.02,462.7 Q1040.32,460.6 1042.12,459.5 Q1043.92,458.5 1045.72,459.5 Q1047.52,460.6 1048.82,462.7 Z" stroke="#000" stroke-width="0.4" fill="#111" />
<path d="M1039.72,478.6 Q1040.72,481.2 1043.92,481.3 Q1047.12,481.2 1048.12,478.6 Z" stroke="#000" stroke-width="0.9" fill="#555" />
<path d="M1107.24,462.7 Q1108.54,460.6 1110.34,459.5 Q1112.14,458.5 1113.94,459.5 Q1115.74,460.6 1117.04,462.7 Z" stroke="#000" stroke-width="0.4" fill="#111" />
<path d="M1107.94,478.6 Q1108.94,481.2 1112.14,481.3 Q1115.34,481.2 1116.34,478.6 Z" stroke="#000" stroke-width="0.9" fill="#555" />
<path d="M1175.46,462.7 Q1176.76,460.6 1178.56,459.5 Q1180.36,458.5 1182.16,459.5 Q1183.96,460.6 1185.26,462.7 Z" stroke="#000" stroke-width="0.4" fill="#111" />
<path d="M1176.16,478.6 Q1177.16,481.2 1180.36,481.3 Q1183.56,481.2 1184.56,478.6 Z" stroke="#000" stroke-width="0.9" fill="#555" />
<path d="M256.60,462.6 A3.6,2.5 0 0 1 263.80,462.6 Z" stroke="#000" stroke-width="0.3" fill="#000" />
<path d="M267.90,462.6 A3.6,2.5 0 0 1 275.10,462.6 Z" stroke="#000" stroke-width="0.3" fill="#000" />
<path d="M1210.20,462.6 A3.6,2.5 0 0 1 1217.40,462.6 Z" stroke="#000" stroke-width="0.3" fill="#000" />
<path d="M1198.90,462.6 A3.6,2.5 0 0 1 1206.10,462.6 Z" stroke="#000" stroke-width="0.3" fill="#000" />
<rect x="203.90" y="466.20" width="22.90" height="23.50" rx="3.2" ry="3.2" fill="none" stroke="#000" stroke-width="1.0"/>
<rect x="205.60" y="467.90" width="19.50" height="20.10" rx="2.4" ry="2.4" fill="none" stroke="#000" stroke-width="0.9"/>
<path d="M204.20,465.4 Q204.60,460.4 210.10,459.8 Q215.60,460.4 216.00,465.4 Z" stroke="#000" stroke-width="1.0" fill="#999" />
<line x1="204.20" y1="464.60" x2="216.00" y2="464.60" stroke="#000" stroke-width="1.5" />
<line x1="224.30" y1="439.80" x2="224.30" y2="464.60" stroke="#333" stroke-width="2.2" />
<path d="M222.20,407.5 L207.40,407.5 Q203.90,407.5 203.90,411 L203.90,436.2 Q203.90,439.8 207.40,439.8 L222.20,439.8" stroke="#000" stroke-width="1" fill="none" />
<rect x="222.20" y="407.2" width="2.8" height="32.8" fill="#666" stroke="#000" stroke-width="0.8"/>
<circle cx="209.80" cy="414.70" r="2.5" stroke="#000" stroke-width="0.9" fill="none"/>
<circle cx="209.80" cy="432.10" r="2.5" stroke="#000" stroke-width="0.9" fill="none"/>
<line x1="226.80" y1="464.30" x2="248.70" y2="464.30" stroke="#000" stroke-width="1" />
<line x1="228.50" y1="477.00" x2="248.70" y2="477.00" stroke="#000" stroke-width="1" />
<path d="M236.00,477.00 L236.00,471.20 L239.20,471.20 L239.20,468.30 L243.80,468.30 L243.80,464.30" stroke="#000" stroke-width="1" fill="none" />
<path d="M238.20,477.00 L238.20,473.00 L241.50,473.00 L241.50,470.20 L245.80,470.20 L245.80,464.30" stroke="#000" stroke-width="0.8" fill="none" />
<path d="M226.80,477.00 L226.80,489.70 L231.30,489.70 L231.30,477.00" stroke="#000" stroke-width="1" fill="none" />
<circle cx="232.20" cy="483.80" r="1.5" stroke="#000" stroke-width="0.5" fill="#000"/>
<rect x="1247.20" y="466.20" width="22.90" height="23.50" rx="3.2" ry="3.2" fill="none" stroke="#000" stroke-width="1.0"/>
<rect x="1248.90" y="467.90" width="19.50" height="20.10" rx="2.4" ry="2.4" fill="none" stroke="#000" stroke-width="0.9"/>
<path d="M1246.70,465.4 Q1247.10,460.4 1252.60,459.8 Q1258.10,460.4 1258.50,465.4 Z" stroke="#000" stroke-width="1.0" fill="#999" />
<line x1="1246.70" y1="464.60" x2="1258.50" y2="464.60" stroke="#000" stroke-width="1.5" />
<line x1="1266.80" y1="439.80" x2="1266.80" y2="464.60" stroke="#333" stroke-width="2.2" />
<path d="M1264.70,407.5 L1249.90,407.5 Q1246.40,407.5 1246.40,411 L1246.40,436.2 Q1246.40,439.8 1249.90,439.8 L1264.70,439.8" stroke="#000" stroke-width="1" fill="none" />
<rect x="1264.70" y="407.2" width="2.8" height="32.8" fill="#666" stroke="#000" stroke-width="0.8"/>
<circle cx="1252.30" cy="414.70" r="2.5" stroke="#000" stroke-width="0.9" fill="none"/>
<circle cx="1252.30" cy="432.10" r="2.5" stroke="#000" stroke-width="0.9" fill="none"/>
<line x1="1247.20" y1="464.30" x2="1225.30" y2="464.30" stroke="#000" stroke-width="1" />
<line x1="1245.50" y1="477.00" x2="1225.30" y2="477.00" stroke="#000" stroke-width="1" />
<path d="M1238.00,477.00 L1238.00,471.20 L1234.80,471.20 L1234.80,468.30 L1230.20,468.30 L1230.20,464.30" stroke="#000" stroke-width="1" fill="none" />
<path d="M1235.80,477.00 L1235.80,473.00 L1232.50,473.00 L1232.50,470.20 L1228.20,470.20 L1228.20,464.30" stroke="#000" stroke-width="0.8" fill="none" />
<path d="M1247.20,477.00 L1247.20,489.70 L1242.70,489.70 L1242.70,477.00" stroke="#000" stroke-width="1" fill="none" />
<circle cx="1241.80" cy="483.80" r="1.5" stroke="#000" stroke-width="0.5" fill="#000"/>
<line x1="1572.80" y1="796.40" x2="1572.80" y2="1409.20" stroke="#000" stroke-width="1.1" />
<line x1="1576.00" y1="796.40" x2="1576.00" y2="1387.50" stroke="#000" stroke-width="0.8" />
<line x1="1577.70" y1="796.40" x2="1577.70" y2="1387.50" stroke="#000" stroke-width="0.8" />
<line x1="1591.50" y1="796.40" x2="1591.50" y2="1387.50" stroke="#000" stroke-width="0.8" />
<line x1="1593.40" y1="796.40" x2="1593.40" y2="1387.50" stroke="#000" stroke-width="0.8" />
<line x1="1596.30" y1="796.40" x2="1596.30" y2="1403.30" stroke="#000" stroke-width="1.0" />
<line x1="1597.40" y1="886.00" x2="1597.40" y2="1167.50" stroke="#000" stroke-width="1.6" />
<line x1="1597.60" y1="1167.50" x2="1597.60" y2="1403.30" stroke="#000" stroke-width="0.9" />
<line x1="1599.70" y1="1168.00" x2="1599.70" y2="1403.30" stroke="#000" stroke-width="0.9" />
<path d="M1572.3,796.5 L1572.3,794.2 L1574.6,791.5 L1594.4,791.5 L1596.8,794.2 L1596.8,796.5 Z" stroke="#000" stroke-width="1" fill="none" />
<line x1="1572.30" y1="795.80" x2="1596.80" y2="795.80" stroke="#000" stroke-width="1.6" />
<path d="M1596.6,872.2 C1601,872.6 1603,876 1603,879.3 C1603,882.6 1601,886 1596.6,886.4 Z" stroke="#000" stroke-width="0.6" fill="#000" />
<path d="M1595.8,1167.5 L1600,1167.5 Q1610.5,1168.2 1613.3,1180 L1654.2,1375 Q1654.8,1377.5 1654.8,1380 L1654.8,1409.2 L1621.7,1409.2 L1621.7,1403.3 L1597,1403.3" stroke="#000" stroke-width="1" fill="none" />
<line x1="1621.70" y1="1406.40" x2="1654.80" y2="1406.40" stroke="#000" stroke-width="1" />
<path d="M1612.5,1281.5 Q1612.5,1277.6 1615.8,1277.6 Q1618.6,1277.6 1619.4,1281.3 L1635.4,1359.5 Q1636.2,1365.3 1631,1365.3 L1616.5,1365.3 Q1612.5,1365.3 1612.5,1361.5 Z" stroke="#000" stroke-width="1" fill="none" />
<path d="M1574.7,1409.2 L1574.7,1387.5 L1594.2,1387.5 L1594.2,1409.2" stroke="#000" stroke-width="1" fill="none" />
<line x1="1578.30" y1="1387.50" x2="1578.30" y2="1409.20" stroke="#000" stroke-width="0.9" />
<line x1="1590.80" y1="1387.50" x2="1590.80" y2="1409.20" stroke="#000" stroke-width="0.9" />
<line x1="1572.30" y1="1409.20" x2="1594.60" y2="1409.20" stroke="#000" stroke-width="1.2" />
<path d="M1574.7,1398 Q1572.6,1401 1572.8,1405" stroke="#000" stroke-width="0.9" fill="none" />
<path d="M1594.2,1398 Q1596,1401 1596.2,1403" stroke="#000" stroke-width="0.9" fill="none" />
</g>
<g id="part_iso">
<path d="M1721.3,384.2 Q1726.8,381.8 1729.6,386.6 Q1730.6,388.6 1731.2,391.5 L1749.2,485" stroke="#000" stroke-width="1.0" fill="none" />
<path d="M1729.4,450 Q1729.4,447 1731.6,446.8 Q1733,446.8 1733.6,449.3 L1741.9,489.6 L1741.9,492.2 L1731,498.6 Q1729.4,499.2 1729.4,497 Z" stroke="#000" stroke-width="1.0" fill="none" />
<line x1="1739.50" y1="520.90" x2="1749.20" y2="515.40" stroke="#000" stroke-width="1.0" />
<line x1="1722.60" y1="384.00" x2="1722.60" y2="519.00" stroke="#000" stroke-width="0.8" />
<path d="M2274.6,703.4 Q2280.6,701.2 2283.2,706 Q2284.3,708 2285,711 L2305.6,815.5 Q2305.9,817 2305.9,818.5 L2305.9,832.4 L2287.8,842.8 L2286.6,844.4 L2285.6,843.9 L2275,850" stroke="#000" stroke-width="1.05" fill="none" />
<path d="M2282.6,769.5 Q2282.6,766.5 2284.8,766.3 Q2286.2,766.3 2286.8,768.8 L2295.2,809 L2295.2,811.2 L2284.2,818 Q2282.6,818.6 2282.6,816.4 Z" stroke="#000" stroke-width="1.05" fill="none" />
<line x1="2276.30" y1="704.00" x2="2276.30" y2="848.50" stroke="#000" stroke-width="0.8" />
<line x1="1733.50" y1="517.50" x2="2251.00" y2="816.30" stroke="#000" stroke-width="1.4" />
<line x1="1729.50" y1="520.39" x2="2247.00" y2="819.19" stroke="#000" stroke-width="0.9" />
<polygon points="1749.80,235.61 1760.50,241.79 1760.50,539.60 1749.80,533.80" fill="#fff"/>
<polygon points="1760.50,533.20 1766.70,536.70 1761.30,540.00 1760.50,539.60" fill="#fff"/>
<line x1="1761.10" y1="539.90" x2="1766.50" y2="536.70" stroke="#000" stroke-width="0.9" />
<line x1="1749.80" y1="236.40" x2="1749.80" y2="533.80" stroke="#000" stroke-width="1.5" />
<line x1="1751.60" y1="237.15" x2="1751.60" y2="534.80" stroke="#555" stroke-width="0.6" />
<line x1="1753.80" y1="237.92" x2="1753.80" y2="536.00" stroke="#444" stroke-width="1.0" />
<line x1="1755.70" y1="239.02" x2="1755.70" y2="537.10" stroke="#444" stroke-width="1.0" />
<rect x="1753.80" y="239.02" width="1.9" height="296.98" fill="#999"/>
<line x1="1760.50" y1="241.79" x2="1760.50" y2="539.60" stroke="#000" stroke-width="1.5" />
<line x1="1749.80" y1="533.80" x2="1760.50" y2="539.60" stroke="#000" stroke-width="1.1" />
<polygon points="1786.02,256.53 1796.72,262.71 1796.72,560.51 1786.02,554.71" fill="#fff"/>
<polygon points="1796.72,554.12 1802.92,557.62 1797.52,560.91 1796.72,560.51" fill="#fff"/>
<line x1="1797.32" y1="560.81" x2="1802.72" y2="557.62" stroke="#000" stroke-width="0.9" />
<line x1="1786.02" y1="257.31" x2="1786.02" y2="554.71" stroke="#000" stroke-width="1.5" />
<line x1="1787.82" y1="258.07" x2="1787.82" y2="555.71" stroke="#555" stroke-width="0.6" />
<line x1="1790.02" y1="258.84" x2="1790.02" y2="556.91" stroke="#444" stroke-width="1.0" />
<line x1="1791.92" y1="259.93" x2="1791.92" y2="558.01" stroke="#444" stroke-width="1.0" />
<rect x="1790.02" y="259.93" width="1.9" height="296.98" fill="#999"/>
<line x1="1796.72" y1="262.71" x2="1796.72" y2="560.51" stroke="#000" stroke-width="1.5" />
<line x1="1786.02" y1="554.71" x2="1796.72" y2="560.51" stroke="#000" stroke-width="1.1" />
<polygon points="1822.25,277.44 1832.95,283.62 1832.95,581.43 1822.25,575.63" fill="#fff"/>
<polygon points="1832.95,575.03 1839.15,578.53 1833.75,581.83 1832.95,581.43" fill="#fff"/>
<line x1="1833.55" y1="581.73" x2="1838.95" y2="578.53" stroke="#000" stroke-width="0.9" />
<line x1="1822.25" y1="278.23" x2="1822.25" y2="575.63" stroke="#000" stroke-width="1.5" />
<line x1="1824.05" y1="278.98" x2="1824.05" y2="576.63" stroke="#555" stroke-width="0.6" />
<line x1="1826.25" y1="279.75" x2="1826.25" y2="577.83" stroke="#444" stroke-width="1.0" />
<line x1="1828.15" y1="280.85" x2="1828.15" y2="578.93" stroke="#444" stroke-width="1.0" />
<rect x="1826.25" y="280.85" width="1.9" height="296.98" fill="#999"/>
<line x1="1832.95" y1="283.62" x2="1832.95" y2="581.43" stroke="#000" stroke-width="1.5" />
<line x1="1822.25" y1="575.63" x2="1832.95" y2="581.43" stroke="#000" stroke-width="1.1" />
<polygon points="1858.47,298.36 1869.17,304.54 1869.17,602.35 1858.47,596.54" fill="#fff"/>
<polygon points="1869.17,595.95 1875.38,599.45 1869.97,602.75 1869.17,602.35" fill="#fff"/>
<line x1="1869.77" y1="602.64" x2="1875.17" y2="599.45" stroke="#000" stroke-width="0.9" />
<line x1="1858.47" y1="299.14" x2="1858.47" y2="596.54" stroke="#000" stroke-width="1.5" />
<line x1="1860.27" y1="299.90" x2="1860.27" y2="597.54" stroke="#555" stroke-width="0.6" />
<line x1="1862.47" y1="300.67" x2="1862.47" y2="598.75" stroke="#444" stroke-width="1.0" />
<line x1="1864.38" y1="301.77" x2="1864.38" y2="599.84" stroke="#444" stroke-width="1.0" />
<rect x="1862.47" y="301.77" width="1.9" height="296.98" fill="#999"/>
<line x1="1869.17" y1="304.54" x2="1869.17" y2="602.35" stroke="#000" stroke-width="1.5" />
<line x1="1858.47" y1="596.54" x2="1869.17" y2="602.35" stroke="#000" stroke-width="1.1" />
<polygon points="1894.70,319.28 1905.40,325.45 1905.40,623.26 1894.70,617.46" fill="#fff"/>
<polygon points="1905.40,616.86 1911.60,620.36 1906.20,623.66 1905.40,623.26" fill="#fff"/>
<line x1="1906.00" y1="623.56" x2="1911.40" y2="620.36" stroke="#000" stroke-width="0.9" />
<line x1="1894.70" y1="320.06" x2="1894.70" y2="617.46" stroke="#000" stroke-width="1.5" />
<line x1="1896.50" y1="320.82" x2="1896.50" y2="618.46" stroke="#555" stroke-width="0.6" />
<line x1="1898.70" y1="321.59" x2="1898.70" y2="619.66" stroke="#444" stroke-width="1.0" />
<line x1="1900.60" y1="322.68" x2="1900.60" y2="620.76" stroke="#444" stroke-width="1.0" />
<rect x="1898.70" y="322.68" width="1.9" height="296.98" fill="#999"/>
<line x1="1905.40" y1="325.45" x2="1905.40" y2="623.26" stroke="#000" stroke-width="1.5" />
<line x1="1894.70" y1="617.46" x2="1905.40" y2="623.26" stroke="#000" stroke-width="1.1" />
<polygon points="1930.92,340.19 1941.62,346.37 1941.62,644.18 1930.92,638.38" fill="#fff"/>
<polygon points="1941.62,637.78 1947.83,641.28 1942.42,644.58 1941.62,644.18" fill="#fff"/>
<line x1="1942.22" y1="644.48" x2="1947.62" y2="641.28" stroke="#000" stroke-width="0.9" />
<line x1="1930.92" y1="340.98" x2="1930.92" y2="638.38" stroke="#000" stroke-width="1.5" />
<line x1="1932.72" y1="341.73" x2="1932.72" y2="639.38" stroke="#555" stroke-width="0.6" />
<line x1="1934.92" y1="342.50" x2="1934.92" y2="640.58" stroke="#444" stroke-width="1.0" />
<line x1="1936.83" y1="343.60" x2="1936.83" y2="641.67" stroke="#444" stroke-width="1.0" />
<rect x="1934.92" y="343.60" width="1.9" height="296.98" fill="#999"/>
<line x1="1941.62" y1="346.37" x2="1941.62" y2="644.18" stroke="#000" stroke-width="1.5" />
<line x1="1930.92" y1="638.38" x2="1941.62" y2="644.18" stroke="#000" stroke-width="1.1" />
<polygon points="1967.15,361.11 1977.85,367.29 1977.85,665.09 1967.15,659.29" fill="#fff"/>
<polygon points="1977.85,658.69 1984.05,662.19 1978.65,665.49 1977.85,665.09" fill="#fff"/>
<line x1="1978.45" y1="665.39" x2="1983.85" y2="662.19" stroke="#000" stroke-width="0.9" />
<line x1="1967.15" y1="361.89" x2="1967.15" y2="659.29" stroke="#000" stroke-width="1.5" />
<line x1="1968.95" y1="362.65" x2="1968.95" y2="660.29" stroke="#555" stroke-width="0.6" />
<line x1="1971.15" y1="363.42" x2="1971.15" y2="661.49" stroke="#444" stroke-width="1.0" />
<line x1="1973.05" y1="364.52" x2="1973.05" y2="662.59" stroke="#444" stroke-width="1.0" />
<rect x="1971.15" y="364.52" width="1.9" height="296.97" fill="#999"/>
<line x1="1977.85" y1="367.29" x2="1977.85" y2="665.09" stroke="#000" stroke-width="1.5" />
<line x1="1967.15" y1="659.29" x2="1977.85" y2="665.09" stroke="#000" stroke-width="1.1" />
<polygon points="2003.38,382.03 2014.08,388.20 2014.08,686.00 2003.38,680.20" fill="#fff"/>
<polygon points="2014.08,679.61 2020.28,683.11 2014.88,686.40 2014.08,686.00" fill="#fff"/>
<line x1="2014.67" y1="686.30" x2="2020.08" y2="683.11" stroke="#000" stroke-width="0.9" />
<line x1="2003.38" y1="382.81" x2="2003.38" y2="680.20" stroke="#000" stroke-width="1.5" />
<line x1="2005.17" y1="383.56" x2="2005.17" y2="681.20" stroke="#555" stroke-width="0.6" />
<line x1="2007.38" y1="384.34" x2="2007.38" y2="682.40" stroke="#444" stroke-width="1.0" />
<line x1="2009.28" y1="385.43" x2="2009.28" y2="683.50" stroke="#444" stroke-width="1.0" />
<rect x="2007.38" y="385.43" width="1.9" height="296.97" fill="#999"/>
<line x1="2014.08" y1="388.20" x2="2014.08" y2="686.00" stroke="#000" stroke-width="1.5" />
<line x1="2003.38" y1="680.20" x2="2014.08" y2="686.00" stroke="#000" stroke-width="1.1" />
<polygon points="2039.60,402.94 2050.30,409.12 2050.30,706.92 2039.60,701.12" fill="#fff"/>
<polygon points="2050.30,700.52 2056.50,704.02 2051.10,707.32 2050.30,706.92" fill="#fff"/>
<line x1="2050.90" y1="707.22" x2="2056.30" y2="704.02" stroke="#000" stroke-width="0.9" />
<line x1="2039.60" y1="403.72" x2="2039.60" y2="701.12" stroke="#000" stroke-width="1.5" />
<line x1="2041.40" y1="404.48" x2="2041.40" y2="702.12" stroke="#555" stroke-width="0.6" />
<line x1="2043.60" y1="405.25" x2="2043.60" y2="703.32" stroke="#444" stroke-width="1.0" />
<line x1="2045.50" y1="406.35" x2="2045.50" y2="704.42" stroke="#444" stroke-width="1.0" />
<rect x="2043.60" y="406.35" width="1.9" height="296.97" fill="#999"/>
<line x1="2050.30" y1="409.12" x2="2050.30" y2="706.92" stroke="#000" stroke-width="1.5" />
<line x1="2039.60" y1="701.12" x2="2050.30" y2="706.92" stroke="#000" stroke-width="1.1" />
<polygon points="2075.82,423.86 2086.52,430.04 2086.52,727.84 2075.82,722.03" fill="#fff"/>
<polygon points="2086.52,721.44 2092.72,724.94 2087.32,728.24 2086.52,727.84" fill="#fff"/>
<line x1="2087.12" y1="728.13" x2="2092.52" y2="724.94" stroke="#000" stroke-width="0.9" />
<line x1="2075.82" y1="424.63" x2="2075.82" y2="722.03" stroke="#000" stroke-width="1.5" />
<line x1="2077.62" y1="425.40" x2="2077.62" y2="723.03" stroke="#555" stroke-width="0.6" />
<line x1="2079.82" y1="426.17" x2="2079.82" y2="724.24" stroke="#444" stroke-width="1.0" />
<line x1="2081.72" y1="427.26" x2="2081.72" y2="725.33" stroke="#444" stroke-width="1.0" />
<rect x="2079.82" y="427.26" width="1.9" height="296.97" fill="#999"/>
<line x1="2086.52" y1="430.04" x2="2086.52" y2="727.84" stroke="#000" stroke-width="1.5" />
<line x1="2075.82" y1="722.03" x2="2086.52" y2="727.84" stroke="#000" stroke-width="1.1" />
<polygon points="2112.05,444.77 2122.75,450.95 2122.75,748.75 2112.05,742.95" fill="#fff"/>
<polygon points="2122.75,742.35 2128.95,745.85 2123.55,749.15 2122.75,748.75" fill="#fff"/>
<line x1="2123.35" y1="749.05" x2="2128.75" y2="745.85" stroke="#000" stroke-width="0.9" />
<line x1="2112.05" y1="445.55" x2="2112.05" y2="742.95" stroke="#000" stroke-width="1.5" />
<line x1="2113.85" y1="446.31" x2="2113.85" y2="743.95" stroke="#555" stroke-width="0.6" />
<line x1="2116.05" y1="447.08" x2="2116.05" y2="745.15" stroke="#444" stroke-width="1.0" />
<line x1="2117.95" y1="448.18" x2="2117.95" y2="746.25" stroke="#444" stroke-width="1.0" />
<rect x="2116.05" y="448.18" width="1.9" height="296.97" fill="#999"/>
<line x1="2122.75" y1="450.95" x2="2122.75" y2="748.75" stroke="#000" stroke-width="1.5" />
<line x1="2112.05" y1="742.95" x2="2122.75" y2="748.75" stroke="#000" stroke-width="1.1" />
<polygon points="2148.28,465.69 2158.97,471.87 2158.97,769.67 2148.28,763.87" fill="#fff"/>
<polygon points="2158.97,763.27 2165.17,766.77 2159.78,770.07 2158.97,769.67" fill="#fff"/>
<line x1="2159.57" y1="769.97" x2="2164.97" y2="766.77" stroke="#000" stroke-width="0.9" />
<line x1="2148.28" y1="466.47" x2="2148.28" y2="763.87" stroke="#000" stroke-width="1.5" />
<line x1="2150.08" y1="467.23" x2="2150.08" y2="764.87" stroke="#555" stroke-width="0.6" />
<line x1="2152.28" y1="468.00" x2="2152.28" y2="766.07" stroke="#444" stroke-width="1.0" />
<line x1="2154.18" y1="469.10" x2="2154.18" y2="767.16" stroke="#444" stroke-width="1.0" />
<rect x="2152.28" y="469.10" width="1.9" height="296.97" fill="#999"/>
<line x1="2158.97" y1="471.87" x2="2158.97" y2="769.67" stroke="#000" stroke-width="1.5" />
<line x1="2148.28" y1="763.87" x2="2158.97" y2="769.67" stroke="#000" stroke-width="1.1" />
<polygon points="2184.50,486.61 2195.20,492.79 2195.20,790.58 2184.50,784.78" fill="#fff"/>
<polygon points="2195.20,784.18 2201.40,787.68 2196.00,790.98 2195.20,790.58" fill="#fff"/>
<line x1="2195.80" y1="790.88" x2="2201.20" y2="787.68" stroke="#000" stroke-width="0.9" />
<line x1="2184.50" y1="487.38" x2="2184.50" y2="784.78" stroke="#000" stroke-width="1.5" />
<line x1="2186.30" y1="488.15" x2="2186.30" y2="785.78" stroke="#555" stroke-width="0.6" />
<line x1="2188.50" y1="488.92" x2="2188.50" y2="786.98" stroke="#444" stroke-width="1.0" />
<line x1="2190.40" y1="490.01" x2="2190.40" y2="788.08" stroke="#444" stroke-width="1.0" />
<rect x="2188.50" y="490.01" width="1.9" height="296.97" fill="#999"/>
<line x1="2195.20" y1="492.79" x2="2195.20" y2="790.58" stroke="#000" stroke-width="1.5" />
<line x1="2184.50" y1="784.78" x2="2195.20" y2="790.58" stroke="#000" stroke-width="1.1" />
<polygon points="2220.72,507.52 2231.42,513.70 2231.42,811.50 2220.72,805.69" fill="#fff"/>
<polygon points="2231.42,805.10 2237.62,808.60 2232.22,811.89 2231.42,811.50" fill="#fff"/>
<line x1="2232.02" y1="811.79" x2="2237.42" y2="808.60" stroke="#000" stroke-width="0.9" />
<line x1="2220.72" y1="508.29" x2="2220.72" y2="805.69" stroke="#000" stroke-width="1.5" />
<line x1="2222.53" y1="509.06" x2="2222.53" y2="806.69" stroke="#555" stroke-width="0.6" />
<line x1="2224.72" y1="509.83" x2="2224.72" y2="807.89" stroke="#444" stroke-width="1.0" />
<line x1="2226.62" y1="510.93" x2="2226.62" y2="808.99" stroke="#444" stroke-width="1.0" />
<rect x="2224.72" y="510.93" width="1.9" height="296.96" fill="#999"/>
<line x1="2231.42" y1="513.70" x2="2231.42" y2="811.50" stroke="#000" stroke-width="1.5" />
<line x1="2220.72" y1="805.69" x2="2231.42" y2="811.50" stroke="#000" stroke-width="1.1" />
<line x1="1734.60" y1="212.23" x2="2251.30" y2="510.58" stroke="#000" stroke-width="1.7" />
<line x1="1729.50" y1="214.29" x2="2247.00" y2="513.09" stroke="#000" stroke-width="0.95" />
<line x1="1727.50" y1="217.74" x2="2245.50" y2="516.83" stroke="#000" stroke-width="0.95" />
<line x1="1727.30" y1="222.62" x2="2245.50" y2="521.83" stroke="#000" stroke-width="1.7" />
<line x1="1727.50" y1="523.24" x2="2245.50" y2="822.33" stroke="#000" stroke-width="0.95" />
<line x1="1727.30" y1="529.22" x2="2245.50" y2="828.43" stroke="#000" stroke-width="1.8" />
<line x1="2245.60" y1="512.09" x2="2245.60" y2="522.19" stroke="#000" stroke-width="1.2" />
<path d="M2245.60,512.09 L2251.30,510.58" stroke="#000" stroke-width="1.0" fill="none" />
<path d="M2245.60,522.09 L2250.50,519.29 L2250.50,510.49" stroke="#000" stroke-width="0.9" fill="none" />
<line x1="1727.60" y1="212.99" x2="1727.60" y2="222.99" stroke="#000" stroke-width="1.0" />
<line x1="2245.60" y1="818.69" x2="2245.60" y2="828.79" stroke="#000" stroke-width="1.2" />
<path d="M2245.60,818.69 L2251.30,817.18" stroke="#000" stroke-width="1.0" fill="none" />
<path d="M2245.60,828.69 L2250.50,825.89 L2250.50,817.09" stroke="#000" stroke-width="0.9" fill="none" />
<line x1="1727.60" y1="519.59" x2="1727.60" y2="529.59" stroke="#000" stroke-width="1.0" />
<circle cx="1750.30" cy="233.90" r="2.1" stroke="#000" stroke-width="1.9" fill="#fff"/>
<circle cx="1750.30" cy="233.90" r="0.6" stroke="#000" stroke-width="0.4" fill="#000"/>
<circle cx="1750.30" cy="540.50" r="2.1" stroke="#000" stroke-width="1.9" fill="#fff"/>
<circle cx="1750.30" cy="540.50" r="0.6" stroke="#000" stroke-width="0.4" fill="#000"/>
<circle cx="1786.52" cy="254.81" r="2.1" stroke="#000" stroke-width="1.9" fill="#fff"/>
<circle cx="1786.52" cy="254.81" r="0.6" stroke="#000" stroke-width="0.4" fill="#000"/>
<circle cx="1786.52" cy="561.41" r="2.1" stroke="#000" stroke-width="1.9" fill="#fff"/>
<circle cx="1786.52" cy="561.41" r="0.6" stroke="#000" stroke-width="0.4" fill="#000"/>
<circle cx="1822.75" cy="275.73" r="2.1" stroke="#000" stroke-width="1.9" fill="#fff"/>
<circle cx="1822.75" cy="275.73" r="0.6" stroke="#000" stroke-width="0.4" fill="#000"/>
<circle cx="1822.75" cy="582.33" r="2.1" stroke="#000" stroke-width="1.9" fill="#fff"/>
<circle cx="1822.75" cy="582.33" r="0.6" stroke="#000" stroke-width="0.4" fill="#000"/>
<circle cx="1858.97" cy="296.64" r="2.1" stroke="#000" stroke-width="1.9" fill="#fff"/>
<circle cx="1858.97" cy="296.64" r="0.6" stroke="#000" stroke-width="0.4" fill="#000"/>
<circle cx="1858.97" cy="603.25" r="2.1" stroke="#000" stroke-width="1.9" fill="#fff"/>
<circle cx="1858.97" cy="603.25" r="0.6" stroke="#000" stroke-width="0.4" fill="#000"/>
<circle cx="1895.20" cy="317.56" r="2.1" stroke="#000" stroke-width="1.9" fill="#fff"/>
<circle cx="1895.20" cy="317.56" r="0.6" stroke="#000" stroke-width="0.4" fill="#000"/>
<circle cx="1895.20" cy="624.16" r="2.1" stroke="#000" stroke-width="1.9" fill="#fff"/>
<circle cx="1895.20" cy="624.16" r="0.6" stroke="#000" stroke-width="0.4" fill="#000"/>
<circle cx="1931.42" cy="338.48" r="2.1" stroke="#000" stroke-width="1.9" fill="#fff"/>
<circle cx="1931.42" cy="338.48" r="0.6" stroke="#000" stroke-width="0.4" fill="#000"/>
<circle cx="1931.42" cy="645.08" r="2.1" stroke="#000" stroke-width="1.9" fill="#fff"/>
<circle cx="1931.42" cy="645.08" r="0.6" stroke="#000" stroke-width="0.4" fill="#000"/>
<circle cx="1967.65" cy="359.39" r="2.1" stroke="#000" stroke-width="1.9" fill="#fff"/>
<circle cx="1967.65" cy="359.39" r="0.6" stroke="#000" stroke-width="0.4" fill="#000"/>
<circle cx="1967.65" cy="665.99" r="2.1" stroke="#000" stroke-width="1.9" fill="#fff"/>
<circle cx="1967.65" cy="665.99" r="0.6" stroke="#000" stroke-width="0.4" fill="#000"/>
<circle cx="2003.88" cy="380.31" r="2.1" stroke="#000" stroke-width="1.9" fill="#fff"/>
<circle cx="2003.88" cy="380.31" r="0.6" stroke="#000" stroke-width="0.4" fill="#000"/>
<circle cx="2003.88" cy="686.90" r="2.1" stroke="#000" stroke-width="1.9" fill="#fff"/>
<circle cx="2003.88" cy="686.90" r="0.6" stroke="#000" stroke-width="0.4" fill="#000"/>
<circle cx="2040.10" cy="401.22" r="2.1" stroke="#000" stroke-width="1.9" fill="#fff"/>
<circle cx="2040.10" cy="401.22" r="0.6" stroke="#000" stroke-width="0.4" fill="#000"/>
<circle cx="2040.10" cy="707.82" r="2.1" stroke="#000" stroke-width="1.9" fill="#fff"/>
<circle cx="2040.10" cy="707.82" r="0.6" stroke="#000" stroke-width="0.4" fill="#000"/>
<circle cx="2076.32" cy="422.13" r="2.1" stroke="#000" stroke-width="1.9" fill="#fff"/>
<circle cx="2076.32" cy="422.13" r="0.6" stroke="#000" stroke-width="0.4" fill="#000"/>
<circle cx="2076.32" cy="728.74" r="2.1" stroke="#000" stroke-width="1.9" fill="#fff"/>
<circle cx="2076.32" cy="728.74" r="0.6" stroke="#000" stroke-width="0.4" fill="#000"/>
<circle cx="2112.55" cy="443.05" r="2.1" stroke="#000" stroke-width="1.9" fill="#fff"/>
<circle cx="2112.55" cy="443.05" r="0.6" stroke="#000" stroke-width="0.4" fill="#000"/>
<circle cx="2112.55" cy="749.65" r="2.1" stroke="#000" stroke-width="1.9" fill="#fff"/>
<circle cx="2112.55" cy="749.65" r="0.6" stroke="#000" stroke-width="0.4" fill="#000"/>
<circle cx="2148.78" cy="463.97" r="2.1" stroke="#000" stroke-width="1.9" fill="#fff"/>
<circle cx="2148.78" cy="463.97" r="0.6" stroke="#000" stroke-width="0.4" fill="#000"/>
<circle cx="2148.78" cy="770.57" r="2.1" stroke="#000" stroke-width="1.9" fill="#fff"/>
<circle cx="2148.78" cy="770.57" r="0.6" stroke="#000" stroke-width="0.4" fill="#000"/>
<circle cx="2185.00" cy="484.88" r="2.1" stroke="#000" stroke-width="1.9" fill="#fff"/>
<circle cx="2185.00" cy="484.88" r="0.6" stroke="#000" stroke-width="0.4" fill="#000"/>
<circle cx="2185.00" cy="791.48" r="2.1" stroke="#000" stroke-width="1.9" fill="#fff"/>
<circle cx="2185.00" cy="791.48" r="0.6" stroke="#000" stroke-width="0.4" fill="#000"/>
<circle cx="2221.22" cy="505.79" r="2.1" stroke="#000" stroke-width="1.9" fill="#fff"/>
<circle cx="2221.22" cy="505.79" r="0.6" stroke="#000" stroke-width="0.4" fill="#000"/>
<circle cx="2221.22" cy="812.39" r="2.1" stroke="#000" stroke-width="1.9" fill="#fff"/>
<circle cx="2221.22" cy="812.39" r="0.6" stroke="#000" stroke-width="0.4" fill="#000"/>
<circle cx="1732.68" cy="223.12" r="1.05" stroke="#000" stroke-width="0.5" fill="#111"/>
<circle cx="1732.68" cy="529.72" r="1.05" stroke="#000" stroke-width="0.5" fill="#111"/>
<circle cx="1738.73" cy="226.62" r="1.05" stroke="#000" stroke-width="0.5" fill="#111"/>
<circle cx="1738.73" cy="533.22" r="1.05" stroke="#000" stroke-width="0.5" fill="#111"/>
<circle cx="2232.80" cy="511.91" r="1.05" stroke="#000" stroke-width="0.5" fill="#111"/>
<circle cx="2232.80" cy="818.51" r="1.05" stroke="#000" stroke-width="0.5" fill="#111"/>
<circle cx="2238.85" cy="515.40" r="1.05" stroke="#000" stroke-width="0.5" fill="#111"/>
<circle cx="2238.85" cy="822.00" r="1.05" stroke="#000" stroke-width="0.5" fill="#111"/>
<polygon points="1698.90,158.20 1709.80,150.40 1721.00,158.20 1721.00,534.60 1709.80,539.40 1698.90,531.60" fill="#fff"/>
<polygon points="1698.90,158.20 1701.10,155.20 1709.80,150.60 1718.80,155.20 1721.00,158.20 1709.80,164.70" fill="#fff"/>
<path d="M1699.00,158.80 L1699.00,157.80 L1701.10,155.20 L1708.30,151.30 Q1709.80,150.10 1711.30,151.30 L1718.80,155.20 L1720.90,157.80 L1720.90,158.80 L1712.00,163.80 Q1709.80,165.20 1707.60,163.80 Z" stroke="#000" stroke-width="1.45" fill="none" stroke-linejoin="round"/>
<path d="M1701.10,155.20 L1708.60,160.20 Q1709.80,161.00 1711.00,160.20 L1718.80,155.20" stroke="#000" stroke-width="0.95" fill="none" />
<path d="M1708.60,160.60 L1707.80,163.30 M1711.00,160.60 L1712.00,163.30" stroke="#111" stroke-width="0.8" fill="none" />
<line x1="1699.65" y1="159.00" x2="1699.65" y2="530.80" stroke="#111" stroke-width="1.7" />
<line x1="1708.10" y1="164.10" x2="1708.10" y2="538.80" stroke="#666" stroke-width="1.3" />
<line x1="1711.70" y1="164.10" x2="1711.70" y2="539.00" stroke="#222" stroke-width="0.95" />
<line x1="1719.75" y1="159.00" x2="1719.75" y2="534.40" stroke="#222" stroke-width="2.5" />
<path d="M1699.30,530.60 Q1699.30,533.20 1701.50,534.80 L1707.80,538.60 Q1709.80,539.80 1711.80,538.80 L1718.80,534.80" stroke="#000" stroke-width="1.25" fill="none" />
<circle cx="1704.30" cy="527.60" r="1.5" stroke="#000" stroke-width="0.9" fill="none"/>
<circle cx="1706.50" cy="533.00" r="0.7" stroke="#000" stroke-width="0.5" fill="#000"/>
<polygon points="2251.50,477.60 2262.80,469.80 2274.20,477.60 2274.20,854.00 2262.80,858.80 2251.50,851.00" fill="#fff"/>
<polygon points="2251.50,477.60 2253.70,474.60 2262.80,470.00 2272.00,474.60 2274.20,477.60 2262.80,484.10" fill="#fff"/>
<path d="M2251.60,478.20 L2251.60,477.20 L2253.70,474.60 L2261.30,470.70 Q2262.80,469.50 2264.30,470.70 L2272.00,474.60 L2274.10,477.20 L2274.10,478.20 L2265.00,483.20 Q2262.80,484.60 2260.60,483.20 Z" stroke="#000" stroke-width="1.45" fill="none" stroke-linejoin="round"/>
<path d="M2253.70,474.60 L2261.60,479.60 Q2262.80,480.40 2264.00,479.60 L2272.00,474.60" stroke="#000" stroke-width="0.95" fill="none" />
<path d="M2261.60,480.00 L2260.80,482.70 M2264.00,480.00 L2265.00,482.70" stroke="#111" stroke-width="0.8" fill="none" />
<line x1="2252.25" y1="478.40" x2="2252.25" y2="850.20" stroke="#111" stroke-width="1.7" />
<line x1="2261.10" y1="483.50" x2="2261.10" y2="858.20" stroke="#666" stroke-width="1.3" />
<line x1="2264.70" y1="483.50" x2="2264.70" y2="858.40" stroke="#222" stroke-width="0.95" />
<line x1="2272.95" y1="478.40" x2="2272.95" y2="853.80" stroke="#222" stroke-width="2.5" />
<path d="M2251.90,850.00 Q2251.90,852.60 2254.10,854.20 L2260.80,858.00 Q2262.80,859.20 2264.80,858.20 L2272.00,854.20" stroke="#000" stroke-width="1.25" fill="none" />
<circle cx="2256.90" cy="847.00" r="1.5" stroke="#000" stroke-width="0.9" fill="none"/>
<circle cx="2259.10" cy="852.40" r="0.7" stroke="#000" stroke-width="0.5" fill="#000"/>
<path d="M2263.8,848.8 L2271.5,844.4 L2273.2,845.2 L2273.2,853.2 L2271.6,854.4" stroke="#000" stroke-width="0.9" fill="none" />
<line x1="2264.20" y1="848.80" x2="2264.20" y2="857.20" stroke="#000" stroke-width="0.8" />
<line x1="2271.50" y1="844.40" x2="2271.50" y2="853.80" stroke="#000" stroke-width="0.8" />
<path d="M1709.5,216.60 Q1709.3,214.20 1711.2,213.10 L1716.9,209.90 Q1718.6,209.40 1718.7,211.20 L1718.7,216.80 L1713.2,220.30 Q1710.2,221.20 1709.5,216.60 Z" stroke="#000" stroke-width="1.1" fill="#fff" />
<circle cx="1715.40" cy="216.60" r="1.9" stroke="#000" stroke-width="0.8" fill="#000"/>
<path d="M1711.5,212.90 L1718.2,208.20 L1722.4,205.40 L1734.8,212.00" stroke="#000" stroke-width="0.95" fill="none" />
<path d="M1720.3,213.00 L1724.4,210.50 L1728.9,212.60 M1720.3,213.00 L1720.3,218.60 Q1721.2,220.40 1723,221.40 L1727.6,223.40" stroke="#000" stroke-width="1.1" fill="none" />
<path d="M1721.6,212.60 L1726,210.20 L1731,212.60" stroke="#000" stroke-width="0.8" fill="none" />
<circle cx="1723.80" cy="216.50" r="0.9" stroke="#000" stroke-width="0.5" fill="#000"/>
<path d="M1709.5,524.40 Q1709.3,522.00 1711.2,520.90 L1716.9,517.70 Q1718.6,517.20 1718.7,519.00 L1718.7,524.60 L1713.2,528.10 Q1710.2,529.00 1709.5,524.40 Z" stroke="#000" stroke-width="1.1" fill="#fff" />
<circle cx="1715.40" cy="524.40" r="1.9" stroke="#000" stroke-width="0.8" fill="#000"/>
<path d="M1711.5,520.70 L1718.2,516.00 L1722.4,513.20 L1734.8,519.80" stroke="#000" stroke-width="0.95" fill="none" />
<path d="M1720.3,520.80 L1724.4,518.30 L1728.9,520.40 M1720.3,520.80 L1720.3,526.40 Q1721.2,528.20 1723,529.20 L1727.6,531.20" stroke="#000" stroke-width="1.1" fill="none" />
<path d="M1721.6,520.40 L1726,518.00 L1731,520.40" stroke="#000" stroke-width="0.8" fill="none" />
<circle cx="1723.80" cy="524.30" r="0.9" stroke="#000" stroke-width="0.5" fill="#000"/>
<ellipse cx="2250.6" cy="527.19" rx="1.9" ry="3.2" fill="#fff" stroke="#000" stroke-width="1.0"/>
<circle cx="2250.90" cy="516.49" r="0.9" stroke="#000" stroke-width="0.4" fill="#000"/>
<ellipse cx="2250.6" cy="833.79" rx="1.9" ry="3.2" fill="#fff" stroke="#000" stroke-width="1.0"/>
<circle cx="2250.90" cy="823.09" r="0.9" stroke="#000" stroke-width="0.4" fill="#000"/>
</g>
<g id="part_exp">
<clipPath id="expclip"><rect x="1800" y="1000" width="360.3" height="720"/></clipPath>
<g clip-path="url(#expclip)">
<polygon points="1965.2,1040.7 1979.8,1031.3 1994.4,1040.7 1994.4,1541.4 1979.8,1549.4 1965.2,1535.4" fill="#fff"/>
<polygon points="1965.20,1041.00 1967.70,1038.20 1979.80,1031.70 1991.90,1038.20 1994.40,1041.00 1979.80,1050.00" fill="#fff"/>
<path d="M1965.50,1042.20 Q1965.20,1040.40 1967.70,1038.20 L1977.20,1033.00 Q1979.80,1031.00 1982.40,1033.00 L1991.90,1038.20 Q1994.40,1040.40 1994.10,1042.20 L1983.40,1048.30 Q1979.80,1050.80 1976.20,1048.30 Z" stroke="#000" stroke-width="1.5" fill="none" stroke-linejoin="round"/>
<path d="M1967.70,1038.20 L1978.20,1044.40 Q1979.80,1045.40 1981.40,1044.40 L1991.90,1038.20" stroke="#000" stroke-width="1.0" fill="none" />
<path d="M1978.10,1044.80 L1977.20,1048.40 M1981.60,1044.80 L1982.80,1048.40 M1977.80,1047.40 Q1979.80,1045.60 1982.00,1047.40" stroke="#111" stroke-width="0.9" fill="none" />
<line x1="1965.60" y1="1042.20" x2="1965.60" y2="1534.20" stroke="#111" stroke-width="2.0" />
<line x1="1977.10" y1="1049.20" x2="1977.10" y2="1548.20" stroke="#666" stroke-width="1.5" />
<line x1="1982.40" y1="1049.20" x2="1982.40" y2="1548.60" stroke="#222" stroke-width="1.0" />
<line x1="1994.10" y1="1042.20" x2="1994.10" y2="1541.00" stroke="#111" stroke-width="2.0" />
<path d="M1965.60,1534.00 Q1965.80,1539.90 1969.20,1543.20 L1976.20,1548.20 Q1979.80,1550.00 1982.80,1548.50 L1993.00,1542.20 Q1993.90,1541.60 1993.90,1540.60" stroke="#000" stroke-width="1.3" fill="none" />
<ellipse cx="1971.70" cy="1532.90" rx="1.9" ry="2.5" stroke="#000" stroke-width="1.0" fill="#fff" transform="rotate(-25 1971.70 1532.90)"/>
<ellipse cx="1971.90" cy="1533.00" rx="0.8" ry="1.2" stroke="#000" stroke-width="0.6" fill="#fff" transform="rotate(-25 1971.90 1533.00)"/>
<circle cx="1968.60" cy="1538.00" r="1.1" stroke="#000" stroke-width="0.7" fill="none"/>
<path d="M1988.7,1096.7 L2004.2,1087.7 Q2006,1086.9 2007.6,1088.1 Q2009.6,1089.6 2009.6,1092 L2009.5,1095.6 Q2009,1097.4 2006.2,1098.8 Q2008.2,1102.6 2007.2,1106.8 Q2006.2,1110.2 2002.9,1112.0 L2000.2,1112.6 L1988.7,1105.8 Z" stroke="#000" stroke-width="1.25" fill="#fff" />
<path d="M1988.7,1096.7 L2000.2,1102.9 L2005.6,1099.2" stroke="#000" stroke-width="1.0" fill="none" />
<path d="M2000.2,1102.9 Q1996.2,1104.2 1996.0,1107.4" stroke="#000" stroke-width="0.8" fill="none" />
<ellipse cx="1999.50" cy="1106.70" rx="2.9" ry="3.7" stroke="#000" stroke-width="1.0" fill="#fff" transform="rotate(-25 1999.50 1106.70)"/>
<ellipse cx="1999.70" cy="1106.70" rx="1.3" ry="1.9" stroke="#000" stroke-width="0.8" fill="#fff" transform="rotate(-25 1999.70 1106.70)"/>
<path d="M1999.6,1093.5 L2003.9,1091.1 L2003.9,1094.3 M1999.4,1098.0 L2005,1094.8" stroke="#000" stroke-width="1.1" fill="none" />
<circle cx="2001.80" cy="1099.30" r="1.0" stroke="#000" stroke-width="0.5" fill="#000"/>
<circle cx="2005.20" cy="1095.60" r="0.9" stroke="#000" stroke-width="0.8" fill="none"/>
<polygon points="1983.64,1117.04 1990.17,1113.15 1988.68,1110.66 1982.16,1114.56" fill="#fff" stroke="#000" stroke-width="0.95" stroke-linejoin="round"/>
<ellipse cx="1989.42" cy="1111.90" rx="0.8" ry="1.45" transform="rotate(-30.9 1989.42 1111.90)" fill="#fff" stroke="#000" stroke-width="0.8"/>
<ellipse cx="1982.90" cy="1115.80" rx="1.80" ry="2.5" transform="rotate(-30.9 1982.90 1115.80)" fill="#000" stroke="#000" stroke-width="1.2"/>
<circle cx="1982.64" cy="1115.95" r="0.55" stroke="#fff" stroke-width="0.3" fill="#ddd"/>
<path d="M1988.7,1554.1 L2004.2,1545.1 Q2006,1544.3000000000002 2007.6,1545.5 Q2009.6,1547.0 2009.6,1549.4 L2009.5,1553.0 Q2009,1554.8000000000002 2006.2,1556.1999999999998 Q2008.2,1560.0 2007.2,1564.1999999999998 Q2006.2,1567.6 2002.9,1569.4 L2000.2,1570.0 L1988.7,1563.1999999999998 Z" stroke="#000" stroke-width="1.25" fill="#fff" />
<path d="M1988.7,1554.1 L2000.2,1560.3000000000002 L2005.6,1556.6" stroke="#000" stroke-width="1.0" fill="none" />
<path d="M2000.2,1560.3000000000002 Q1996.2,1561.6 1996.0,1564.8000000000002" stroke="#000" stroke-width="0.8" fill="none" />
<ellipse cx="1999.50" cy="1564.10" rx="2.9" ry="3.7" stroke="#000" stroke-width="1.0" fill="#fff" transform="rotate(-25 1999.50 1564.10)"/>
<ellipse cx="1999.70" cy="1564.10" rx="1.3" ry="1.9" stroke="#000" stroke-width="0.8" fill="#fff" transform="rotate(-25 1999.70 1564.10)"/>
<path d="M1999.6,1550.9 L2003.9,1548.5 L2003.9,1551.6999999999998 M1999.4,1555.4 L2005,1552.1999999999998" stroke="#000" stroke-width="1.1" fill="none" />
<circle cx="2001.80" cy="1556.70" r="1.0" stroke="#000" stroke-width="0.5" fill="#000"/>
<circle cx="2005.20" cy="1553.00" r="0.9" stroke="#000" stroke-width="0.8" fill="none"/>
<polygon points="1983.64,1574.44 1990.17,1570.55 1988.68,1568.06 1982.16,1571.96" fill="#fff" stroke="#000" stroke-width="0.95" stroke-linejoin="round"/>
<ellipse cx="1989.42" cy="1569.30" rx="0.8" ry="1.45" transform="rotate(-30.9 1989.42 1569.30)" fill="#fff" stroke="#000" stroke-width="0.8"/>
<ellipse cx="1982.90" cy="1573.20" rx="1.80" ry="2.5" transform="rotate(-30.9 1982.90 1573.20)" fill="#000" stroke="#000" stroke-width="1.2"/>
<circle cx="1982.64" cy="1573.35" r="0.55" stroke="#fff" stroke-width="0.3" fill="#ddd"/>
<polygon points="2022.7,1103.4 2043.6,1115.2 2043.8,1121.6 2037.7,1125.6 2016.8,1114.6 2016.8,1106.8" fill="#fff" stroke="#000" stroke-width="1.1" stroke-linejoin="round"/>
<polygon points="2017.3,1107.1 2037.4,1118.9 2037.7,1125.6 2016.8,1114.6" fill="#fff" stroke="#000" stroke-width="1.0"/>
<line x1="2037.40" y1="1118.90" x2="2043.60" y2="1115.20" stroke="#000" stroke-width="1.0" />
<line x1="2017.30" y1="1107.10" x2="2023.20" y2="1103.80" stroke="#000" stroke-width="0.9" />
<line x1="2018.60" y1="1108.86" x2="2018.60" y2="1114.06" stroke="#000" stroke-width="1.0" />
<line x1="2020.35" y1="1109.89" x2="2020.35" y2="1115.09" stroke="#000" stroke-width="1.0" />
<line x1="2022.10" y1="1110.92" x2="2022.10" y2="1116.12" stroke="#000" stroke-width="1.0" />
<line x1="2023.85" y1="1111.94" x2="2023.85" y2="1117.14" stroke="#000" stroke-width="1.0" />
<line x1="2025.60" y1="1112.97" x2="2025.60" y2="1118.17" stroke="#000" stroke-width="1.0" />
<line x1="2027.35" y1="1114.00" x2="2027.35" y2="1119.20" stroke="#000" stroke-width="1.0" />
<line x1="2029.10" y1="1115.03" x2="2029.10" y2="1120.23" stroke="#000" stroke-width="1.0" />
<line x1="2030.85" y1="1116.05" x2="2030.85" y2="1121.25" stroke="#000" stroke-width="1.0" />
<line x1="2032.60" y1="1117.08" x2="2032.60" y2="1122.28" stroke="#000" stroke-width="1.0" />
<line x1="2034.35" y1="1118.11" x2="2034.35" y2="1123.31" stroke="#000" stroke-width="1.0" />
<line x1="2036.10" y1="1119.14" x2="2036.10" y2="1124.34" stroke="#000" stroke-width="1.0" />
<line x1="2017.60" y1="1109.30" x2="2037.40" y2="1120.90" stroke="#000" stroke-width="1.0" />
<line x1="2017.60" y1="1112.40" x2="2037.40" y2="1123.90" stroke="#000" stroke-width="1.0" />
<path d="M2011.6,1099.0 L2015.4,1096.4 L2023.2,1101.2 L2016.8,1105.3" stroke="#000" stroke-width="1.0" fill="none" />
<rect x="2014.5" y="1105.40" width="2.4" height="9.3" fill="#fff" stroke="#000" stroke-width="0.9"/>
<path d="M2009.4,1101.4 Q2009.8,1098.8 2012.6,1098.2 L2015.4,1099.6 L2014.2,1101.2 L2016.2,1101.6 L2015.2,1103.2 L2013.6,1103.6 L2014.4,1108.4 L2012.4,1107.8 Q2009.2,1105.8 2009.4,1101.4 Z" stroke="#000" stroke-width="0.6" fill="#000" />
<path d="M2011.2,1112.4 L2013,1111.2 L2014.5,1112.2 L2014.5,1114.6 L2016.8,1115.8 L2015.4,1116.6 Z" stroke="#000" stroke-width="0.9" fill="#fff" />
<polygon points="2026.2,1099.7 2031.6,1102.8 2030.6,1105.4 2025.4,1102.4" fill="#fff" stroke="#000" stroke-width="0.95" stroke-linejoin="round"/>
<ellipse cx="2032.60" cy="1104.50" rx="2.1" ry="3.0" stroke="#000" stroke-width="1.2" fill="#000" transform="rotate(-28 2032.60 1104.50)"/>
<circle cx="2032.90" cy="1104.50" r="0.55" stroke="#ddd" stroke-width="0.3" fill="#ddd"/>
<polygon points="2033.37,1147.97 2039.36,1144.54 2038.01,1142.20 2032.03,1145.63" fill="#fff" stroke="#000" stroke-width="0.95" stroke-linejoin="round"/>
<ellipse cx="2038.68" cy="1143.37" rx="0.8" ry="1.35" transform="rotate(-29.8 2038.68 1143.37)" fill="#fff" stroke="#000" stroke-width="0.8"/>
<ellipse cx="2032.70" cy="1146.80" rx="1.94" ry="2.7" transform="rotate(-29.8 2032.70 1146.80)" fill="#000" stroke="#000" stroke-width="1.2"/>
<circle cx="2032.44" cy="1146.95" r="0.55" stroke="#fff" stroke-width="0.3" fill="#ddd"/>
<polygon points="2041.60,1152.45 2047.59,1148.82 2046.18,1146.52 2040.20,1150.15" fill="#fff" stroke="#000" stroke-width="0.95" stroke-linejoin="round"/>
<ellipse cx="2046.89" cy="1147.67" rx="0.8" ry="1.35" transform="rotate(-31.2 2046.89 1147.67)" fill="#fff" stroke="#000" stroke-width="0.8"/>
<ellipse cx="2040.90" cy="1151.30" rx="1.94" ry="2.7" transform="rotate(-31.2 2040.90 1151.30)" fill="#000" stroke="#000" stroke-width="1.2"/>
<circle cx="2040.64" cy="1151.46" r="0.55" stroke="#fff" stroke-width="0.3" fill="#ddd"/>
<polygon points="2022.7,1561.3000000000002 2043.6,1573.1 2043.8,1579.5 2037.7,1583.5 2016.8,1572.5 2016.8,1564.6999999999998" fill="#fff" stroke="#000" stroke-width="1.1" stroke-linejoin="round"/>
<polygon points="2017.3,1565.0 2037.4,1576.8000000000002 2037.7,1583.5 2016.8,1572.5" fill="#fff" stroke="#000" stroke-width="1.0"/>
<line x1="2037.40" y1="1576.80" x2="2043.60" y2="1573.10" stroke="#000" stroke-width="1.0" />
<line x1="2017.30" y1="1565.00" x2="2023.20" y2="1561.70" stroke="#000" stroke-width="0.9" />
<line x1="2018.60" y1="1566.76" x2="2018.60" y2="1571.96" stroke="#000" stroke-width="1.0" />
<line x1="2020.35" y1="1567.79" x2="2020.35" y2="1572.99" stroke="#000" stroke-width="1.0" />
<line x1="2022.10" y1="1568.82" x2="2022.10" y2="1574.02" stroke="#000" stroke-width="1.0" />
<line x1="2023.85" y1="1569.84" x2="2023.85" y2="1575.04" stroke="#000" stroke-width="1.0" />
<line x1="2025.60" y1="1570.87" x2="2025.60" y2="1576.07" stroke="#000" stroke-width="1.0" />
<line x1="2027.35" y1="1571.90" x2="2027.35" y2="1577.10" stroke="#000" stroke-width="1.0" />
<line x1="2029.10" y1="1572.93" x2="2029.10" y2="1578.13" stroke="#000" stroke-width="1.0" />
<line x1="2030.85" y1="1573.95" x2="2030.85" y2="1579.15" stroke="#000" stroke-width="1.0" />
<line x1="2032.60" y1="1574.98" x2="2032.60" y2="1580.18" stroke="#000" stroke-width="1.0" />
<line x1="2034.35" y1="1576.01" x2="2034.35" y2="1581.21" stroke="#000" stroke-width="1.0" />
<line x1="2036.10" y1="1577.04" x2="2036.10" y2="1582.24" stroke="#000" stroke-width="1.0" />
<line x1="2017.60" y1="1567.20" x2="2037.40" y2="1578.80" stroke="#000" stroke-width="1.0" />
<line x1="2017.60" y1="1570.30" x2="2037.40" y2="1581.80" stroke="#000" stroke-width="1.0" />
<path d="M2011.6,1556.9 L2015.4,1554.3000000000002 L2023.2,1559.1 L2016.8,1563.1999999999998" stroke="#000" stroke-width="1.0" fill="none" />
<rect x="2014.5" y="1563.30" width="2.4" height="9.3" fill="#fff" stroke="#000" stroke-width="0.9"/>
<path d="M2009.4,1559.3000000000002 Q2009.8,1556.6999999999998 2012.6,1556.1 L2015.4,1557.5 L2014.2,1559.1 L2016.2,1559.5 L2015.2,1561.1 L2013.6,1561.5 L2014.4,1566.3000000000002 L2012.4,1565.6999999999998 Q2009.2,1563.6999999999998 2009.4,1559.3000000000002 Z" stroke="#000" stroke-width="0.6" fill="#000" />
<path d="M2011.2,1570.3000000000002 L2013,1569.1 L2014.5,1570.1 L2014.5,1572.5 L2016.8,1573.6999999999998 L2015.4,1574.5 Z" stroke="#000" stroke-width="0.9" fill="#fff" />
<polygon points="2026.2,1557.6 2031.6,1560.6999999999998 2030.6,1563.3000000000002 2025.4,1560.3000000000002" fill="#fff" stroke="#000" stroke-width="0.95" stroke-linejoin="round"/>
<ellipse cx="2032.60" cy="1562.40" rx="2.1" ry="3.0" stroke="#000" stroke-width="1.2" fill="#000" transform="rotate(-28 2032.60 1562.40)"/>
<circle cx="2032.90" cy="1562.40" r="0.55" stroke="#ddd" stroke-width="0.3" fill="#ddd"/>
<polygon points="2033.37,1605.87 2039.36,1602.44 2038.01,1600.10 2032.03,1603.53" fill="#fff" stroke="#000" stroke-width="0.95" stroke-linejoin="round"/>
<ellipse cx="2038.68" cy="1601.27" rx="0.8" ry="1.35" transform="rotate(-29.8 2038.68 1601.27)" fill="#fff" stroke="#000" stroke-width="0.8"/>
<ellipse cx="2032.70" cy="1604.70" rx="1.94" ry="2.7" transform="rotate(-29.8 2032.70 1604.70)" fill="#000" stroke="#000" stroke-width="1.2"/>
<circle cx="2032.44" cy="1604.85" r="0.55" stroke="#fff" stroke-width="0.3" fill="#ddd"/>
<polygon points="2041.60,1610.35 2047.59,1606.72 2046.18,1604.42 2040.20,1608.05" fill="#fff" stroke="#000" stroke-width="0.95" stroke-linejoin="round"/>
<ellipse cx="2046.89" cy="1605.57" rx="0.8" ry="1.35" transform="rotate(-31.2 2046.89 1605.57)" fill="#fff" stroke="#000" stroke-width="0.8"/>
<ellipse cx="2040.90" cy="1609.20" rx="1.94" ry="2.7" transform="rotate(-31.2 2040.90 1609.20)" fill="#000" stroke="#000" stroke-width="1.2"/>
<circle cx="2040.64" cy="1609.36" r="0.55" stroke="#fff" stroke-width="0.3" fill="#ddd"/>
<polygon points="2055.3,1118.70 2175,1187.81 2175,1208.41 2048.6,1135.43 2046.3,1133.23 2046.3,1126.50 2047.4,1123.10" fill="#fff"/>
<line x1="2055.30" y1="1118.70" x2="2175.00" y2="1187.81" stroke="#000" stroke-width="1.8" />
<line x1="2049.20" y1="1122.38" x2="2175.00" y2="1195.01" stroke="#000" stroke-width="0.95" />
<line x1="2046.60" y1="1127.28" x2="2175.00" y2="1201.41" stroke="#000" stroke-width="0.95" />
<line x1="2048.60" y1="1135.43" x2="2175.00" y2="1208.41" stroke="#000" stroke-width="1.9" />
<path d="M2055.3,1118.70 Q2052,1119.30 2047.6,1122.90 Q2046.2,1124.30 2046.3,1126.70 L2046.3,1133.03 L2048.6,1135.43" stroke="#000" stroke-width="1.2" fill="none" />
<ellipse cx="2054.30" cy="1135.12" rx="1.2" ry="1.7" stroke="#000" stroke-width="0.9" fill="#fff" transform="rotate(-20 2054.30 1135.12)"/>
<ellipse cx="2062.60" cy="1139.92" rx="1.2" ry="1.7" stroke="#000" stroke-width="0.9" fill="#fff" transform="rotate(-20 2062.60 1139.92)"/>
<ellipse cx="2077.90" cy="1148.75" rx="1.2" ry="1.7" stroke="#000" stroke-width="0.9" fill="#fff" transform="rotate(-20 2077.90 1148.75)"/>
<ellipse cx="2125.70" cy="1176.35" rx="1.2" ry="1.7" stroke="#000" stroke-width="0.9" fill="#fff" transform="rotate(-20 2125.70 1176.35)"/>
<polygon points="2055.3,1583.30 2175,1652.41 2175,1673.01 2048.6,1600.03 2046.3,1597.83 2046.3,1591.10 2047.4,1587.70" fill="#fff"/>
<line x1="2055.30" y1="1583.30" x2="2175.00" y2="1652.41" stroke="#000" stroke-width="1.8" />
<line x1="2049.20" y1="1586.98" x2="2175.00" y2="1659.61" stroke="#000" stroke-width="0.95" />
<line x1="2046.60" y1="1591.88" x2="2175.00" y2="1666.01" stroke="#000" stroke-width="0.95" />
<line x1="2048.60" y1="1600.03" x2="2175.00" y2="1673.01" stroke="#000" stroke-width="1.9" />
<path d="M2055.3,1583.30 Q2052,1583.90 2047.6,1587.50 Q2046.2,1588.90 2046.3,1591.30 L2046.3,1597.63 L2048.6,1600.03" stroke="#000" stroke-width="1.2" fill="none" />
<ellipse cx="2054.30" cy="1599.72" rx="1.2" ry="1.7" stroke="#000" stroke-width="0.9" fill="#fff" transform="rotate(-20 2054.30 1599.72)"/>
<ellipse cx="2062.60" cy="1604.52" rx="1.2" ry="1.7" stroke="#000" stroke-width="0.9" fill="#fff" transform="rotate(-20 2062.60 1604.52)"/>
<ellipse cx="2077.90" cy="1613.35" rx="1.2" ry="1.7" stroke="#000" stroke-width="0.9" fill="#fff" transform="rotate(-20 2077.90 1613.35)"/>
<ellipse cx="2125.70" cy="1640.95" rx="1.2" ry="1.7" stroke="#000" stroke-width="0.9" fill="#fff" transform="rotate(-20 2125.70 1640.95)"/>
<polygon points="2073.20,1592.40 2090.60,1602.40 2086.20,1607.20 2069.00,1597.20" fill="#fff" stroke="#000" stroke-width="0.9" stroke-linejoin="round"/>
<line x1="2085.20" y1="1606.50" x2="2092.10" y2="1603.20" stroke="#000" stroke-width="0.9" />
<ellipse cx="2068.60" cy="1593.60" rx="3.0" ry="4.0" stroke="#000" stroke-width="1.3" fill="#fff" transform="rotate(-28 2068.60 1593.60)"/>
<ellipse cx="2068.80" cy="1593.60" rx="1.2" ry="1.9" stroke="#000" stroke-width="0.9" fill="#000" transform="rotate(-28 2068.80 1593.60)"/>
<circle cx="2072.40" cy="1590.00" r="1.6" stroke="#000" stroke-width="0.9" fill="#fff"/>
<circle cx="2073.80" cy="1594.60" r="1.3" stroke="#000" stroke-width="0.8" fill="#fff"/>
<polygon points="2121.70,1619.70 2139.10,1629.70 2134.70,1634.50 2117.50,1624.50" fill="#fff" stroke="#000" stroke-width="0.9" stroke-linejoin="round"/>
<line x1="2133.70" y1="1633.80" x2="2140.60" y2="1630.50" stroke="#000" stroke-width="0.9" />
<ellipse cx="2117.10" cy="1620.90" rx="3.0" ry="4.0" stroke="#000" stroke-width="1.3" fill="#fff" transform="rotate(-28 2117.10 1620.90)"/>
<ellipse cx="2117.30" cy="1620.90" rx="1.2" ry="1.9" stroke="#000" stroke-width="0.9" fill="#000" transform="rotate(-28 2117.30 1620.90)"/>
<circle cx="2120.90" cy="1617.30" r="1.6" stroke="#000" stroke-width="0.9" fill="#fff"/>
<circle cx="2122.30" cy="1621.90" r="1.3" stroke="#000" stroke-width="0.8" fill="#fff"/>
<polygon points="2075.6,1175.3 2082.50,1171.00 2085.10,1169.70 2090.30,1174.10 2090.30,1585.00 2081.30,1590.70 2075.6,1585.7" fill="#fff"/>
<rect x="2081.20" y="1180.80" width="3.2" height="408.90" fill="#e6e6e6"/>
<path d="M2075.90,1176.10 L2075.90,1175.20 L2082.50,1171.00" stroke="#000" stroke-width="1.3" fill="none" />
<ellipse cx="2079.90" cy="1177.70" rx="1.35" ry="2.0" stroke="#000" stroke-width="1.2" fill="#fff" transform="rotate(-20 2079.90 1177.70)"/>
<path d="M2082.50,1180.50 L2082.50,1172.70 Q2082.70,1169.80 2085.50,1169.80 Q2089.80,1170.40 2090.00,1174.70" stroke="#000" stroke-width="1.4" fill="none" />
<ellipse cx="2086.60" cy="1173.70" rx="1.0" ry="1.9" stroke="#000" stroke-width="0.95" fill="#fff" transform="rotate(28 2086.60 1173.70)"/>
<path d="M2082.50,1179.90 L2085.10,1178.50" stroke="#444" stroke-width="0.8" fill="none" />
<line x1="2083.30" y1="1171.70" x2="2083.30" y2="1179.70" stroke="#777" stroke-width="1.3" />
<line x1="2075.90" y1="1175.90" x2="2075.90" y2="1585.70" stroke="#000" stroke-width="1.6" />
<line x1="2081.10" y1="1179.90" x2="2081.10" y2="1590.00" stroke="#000" stroke-width="0.9" />
<line x1="2084.40" y1="1178.70" x2="2084.40" y2="1588.90" stroke="#000" stroke-width="0.9" />
<line x1="2090.00" y1="1174.50" x2="2090.00" y2="1584.90" stroke="#000" stroke-width="1.6" />
<path d="M2075.90,1585.70 L2080.60,1590.30 Q2081.40,1590.90 2082.40,1590.30 L2090.00,1584.90" stroke="#000" stroke-width="1.25" fill="none" />
<ellipse cx="2079.00" cy="1586.90" rx="0.9" ry="1.3" stroke="#000" stroke-width="0.7" fill="#fff" transform="rotate(-25 2079.00 1586.90)"/>
<polygon points="2124.2,1203.2 2131.10,1198.90 2133.70,1197.60 2138.90,1202.00 2138.90,1612.90 2129.90,1618.60 2124.2,1613.6" fill="#fff"/>
<rect x="2129.80" y="1208.70" width="3.2" height="408.90" fill="#e6e6e6"/>
<path d="M2124.50,1204.00 L2124.50,1203.10 L2131.10,1198.90" stroke="#000" stroke-width="1.3" fill="none" />
<ellipse cx="2128.50" cy="1205.60" rx="1.35" ry="2.0" stroke="#000" stroke-width="1.2" fill="#fff" transform="rotate(-20 2128.50 1205.60)"/>
<path d="M2131.10,1208.40 L2131.10,1200.60 Q2131.30,1197.70 2134.10,1197.70 Q2138.40,1198.30 2138.60,1202.60" stroke="#000" stroke-width="1.4" fill="none" />
<ellipse cx="2135.20" cy="1201.60" rx="1.0" ry="1.9" stroke="#000" stroke-width="0.95" fill="#fff" transform="rotate(28 2135.20 1201.60)"/>
<path d="M2131.10,1207.80 L2133.70,1206.40" stroke="#444" stroke-width="0.8" fill="none" />
<line x1="2131.90" y1="1199.60" x2="2131.90" y2="1207.60" stroke="#777" stroke-width="1.3" />
<line x1="2124.50" y1="1203.80" x2="2124.50" y2="1613.60" stroke="#000" stroke-width="1.6" />
<line x1="2129.70" y1="1207.80" x2="2129.70" y2="1617.90" stroke="#000" stroke-width="0.9" />
<line x1="2133.00" y1="1206.60" x2="2133.00" y2="1616.80" stroke="#000" stroke-width="0.9" />
<line x1="2138.60" y1="1202.40" x2="2138.60" y2="1612.80" stroke="#000" stroke-width="1.6" />
<path d="M2124.50,1613.60 L2129.20,1618.20 Q2130.00,1618.80 2131.00,1618.20 L2138.60,1612.80" stroke="#000" stroke-width="1.25" fill="none" />
<ellipse cx="2127.60" cy="1614.80" rx="0.9" ry="1.3" stroke="#000" stroke-width="0.7" fill="#fff" transform="rotate(-25 2127.60 1614.80)"/>
<polygon points="2066.97,1186.49 2073.15,1182.80 2071.61,1180.22 2065.43,1183.91" fill="#fff" stroke="#000" stroke-width="0.95" stroke-linejoin="round"/>
<ellipse cx="2072.38" cy="1181.51" rx="0.8" ry="1.5" transform="rotate(-30.8 2072.38 1181.51)" fill="#fff" stroke="#000" stroke-width="0.8"/>
<ellipse cx="2066.20" cy="1185.20" rx="2.38" ry="3.3" transform="rotate(-30.8 2066.20 1185.20)" fill="#000" stroke="#000" stroke-width="1.2"/>
<circle cx="2065.94" cy="1185.35" r="0.55" stroke="#fff" stroke-width="0.3" fill="#ddd"/>
<polygon points="2115.77,1214.29 2121.95,1210.60 2120.41,1208.02 2114.23,1211.71" fill="#fff" stroke="#000" stroke-width="0.95" stroke-linejoin="round"/>
<ellipse cx="2121.18" cy="1209.31" rx="0.8" ry="1.5" transform="rotate(-30.8 2121.18 1209.31)" fill="#fff" stroke="#000" stroke-width="0.8"/>
<ellipse cx="2115.00" cy="1213.00" rx="2.38" ry="3.3" transform="rotate(-30.8 2115.00 1213.00)" fill="#000" stroke="#000" stroke-width="1.2"/>
<circle cx="2114.74" cy="1213.15" r="0.55" stroke="#fff" stroke-width="0.3" fill="#ddd"/>
<polygon points="2096.86,1165.50 2091.13,1168.77 2092.61,1171.38 2098.34,1168.10" fill="#fff" stroke="#000" stroke-width="0.95" stroke-linejoin="round"/>
<ellipse cx="2091.87" cy="1170.07" rx="0.8" ry="1.5" transform="rotate(150.3 2091.87 1170.07)" fill="#fff" stroke="#000" stroke-width="0.8"/>
<ellipse cx="2097.60" cy="1166.80" rx="2.09" ry="2.9" transform="rotate(150.3 2097.60 1166.80)" fill="#000" stroke="#000" stroke-width="1.2"/>
<circle cx="2097.86" cy="1166.65" r="0.55" stroke="#fff" stroke-width="0.3" fill="#ddd"/>
<polygon points="2145.46,1194.10 2139.73,1197.37 2141.21,1199.98 2146.94,1196.70" fill="#fff" stroke="#000" stroke-width="0.95" stroke-linejoin="round"/>
<ellipse cx="2140.47" cy="1198.67" rx="0.8" ry="1.5" transform="rotate(150.3 2140.47 1198.67)" fill="#fff" stroke="#000" stroke-width="0.8"/>
<ellipse cx="2146.20" cy="1195.40" rx="2.09" ry="2.9" transform="rotate(150.3 2146.20 1195.40)" fill="#000" stroke="#000" stroke-width="1.2"/>
<circle cx="2146.46" cy="1195.25" r="0.55" stroke="#fff" stroke-width="0.3" fill="#ddd"/>
<polygon points="2099.83,1573.21 2093.36,1575.89 2094.51,1578.66 2100.97,1575.99" fill="#fff" stroke="#000" stroke-width="0.95" stroke-linejoin="round"/>
<ellipse cx="2093.93" cy="1577.28" rx="0.8" ry="1.5" transform="rotate(157.5 2093.93 1577.28)" fill="#fff" stroke="#000" stroke-width="0.8"/>
<ellipse cx="2100.40" cy="1574.60" rx="2.30" ry="3.2" transform="rotate(157.5 2100.40 1574.60)" fill="#000" stroke="#000" stroke-width="1.2"/>
<circle cx="2100.68" cy="1574.49" r="0.55" stroke="#fff" stroke-width="0.3" fill="#ddd"/>
<polygon points="2148.43,1601.01 2141.96,1603.69 2143.11,1606.46 2149.57,1603.79" fill="#fff" stroke="#000" stroke-width="0.95" stroke-linejoin="round"/>
<ellipse cx="2142.53" cy="1605.08" rx="0.8" ry="1.5" transform="rotate(157.5 2142.53 1605.08)" fill="#fff" stroke="#000" stroke-width="0.8"/>
<ellipse cx="2149.00" cy="1602.40" rx="2.30" ry="3.2" transform="rotate(157.5 2149.00 1602.40)" fill="#000" stroke="#000" stroke-width="1.2"/>
<circle cx="2149.28" cy="1602.29" r="0.55" stroke="#fff" stroke-width="0.3" fill="#ddd"/>
<path d="M1931.3,1366.4 Q1923.4,1370.5 1921.3,1381 L1892.6,1553.5 Q1891.8,1558 1891.8,1562 L1891.8,1585.3 L1905,1593.8 Q1906.2,1594.4 1907.4,1593.8 L1927.2,1582.4 Q1928.2,1581.6 1927.6,1580.4 L1927.4,1579.2 L1916.4,1572.4 Q1915.6,1571.6 1915.8,1570.4 L1915.8,1568.3 L1931.3,1558.9" stroke="#000" stroke-width="1.15" fill="none" />
<path d="M1892,1584.2 L1915.6,1570.6 M1893.4,1585.8 L1916.8,1572.4" stroke="#333" stroke-width="0.7" fill="none" />
<path d="M1919,1464.6 Q1920.4,1463 1921.6,1463.8 Q1922.4,1464.4 1922.4,1466 L1922.4,1530.4 Q1922.4,1531.8 1921.2,1532.6 L1908.2,1540.8 Q1906.4,1541.6 1906.5,1539.4 Z" stroke="#000" stroke-width="1.15" fill="none" />
<polygon points="1931.3,1366.2 1934.6,1366.2 1947,1373.3 1947.6,1374.6 1947.6,1563.4 1946.4,1564.4 1934.4,1558.2 1931.3,1558.9" fill="#fff"/>
<line x1="1931.40" y1="1366.20" x2="1931.40" y2="1559.00" stroke="#000" stroke-width="1.1" />
<line x1="1934.30" y1="1366.40" x2="1934.30" y2="1558.40" stroke="#000" stroke-width="1.1" />
<line x1="1932.85" y1="1366.50" x2="1932.85" y2="1558.60" stroke="#bbb" stroke-width="1.6" />
<path d="M1931.3,1366.4 L1934.5,1366.2 L1946.6,1373.2 Q1947.6,1373.9 1947.6,1375.2 L1947.6,1562.8 Q1947.6,1564.6 1946,1564.2 L1934.4,1558.2" stroke="#000" stroke-width="1.15" fill="none" />
<ellipse cx="1942.60" cy="1384.00" rx="1.3" ry="1.8" stroke="#000" stroke-width="0.8" fill="#888" transform="rotate(-25 1942.60 1384.00)"/>
<ellipse cx="1942.60" cy="1467.60" rx="1.3" ry="1.8" stroke="#000" stroke-width="0.8" fill="#888" transform="rotate(-25 1942.60 1467.60)"/>
<ellipse cx="1942.60" cy="1545.00" rx="1.3" ry="1.8" stroke="#000" stroke-width="0.8" fill="#888" transform="rotate(-25 1942.60 1545.00)"/>
<ellipse cx="1919.20" cy="1580.90" rx="1.9" ry="1.3" stroke="#000" stroke-width="0.8" fill="#999" transform="rotate(-20 1919.20 1580.90)"/>
<ellipse cx="1907.30" cy="1587.60" rx="1.9" ry="1.3" stroke="#000" stroke-width="0.8" fill="#999" transform="rotate(-20 1907.30 1587.60)"/>
<ellipse cx="1871.90" cy="1425.10" rx="2.7" ry="3.3" transform="rotate(-28 1871.90 1425.10)" fill="#fff" stroke="#000" stroke-width="1.1"/>
<polygon points="1867.70,1423.40 1870.90,1421.80 1873.50,1427.80 1870.30,1429.60" fill="#fff"/>
<line x1="1868.10" y1="1423.10" x2="1870.90" y2="1421.70" stroke="#000" stroke-width="1.0" />
<line x1="1870.70" y1="1429.50" x2="1873.50" y2="1428.00" stroke="#000" stroke-width="1.0" />
<ellipse cx="1866.50" cy="1428.00" rx="3.9" ry="5.3" transform="rotate(-30 1866.50 1428.00)" fill="#fff" stroke="#000" stroke-width="1.5"/>
<path d="M1863.90,1427.40 L1865.30,1426.20 L1865.90,1428.60 L1867.90,1429.80 L1866.90,1431.20 L1864.70,1430.80 Z" stroke="#000" stroke-width="0.8" fill="#000" />
<ellipse cx="1871.90" cy="1508.70" rx="2.7" ry="3.3" transform="rotate(-28 1871.90 1508.70)" fill="#fff" stroke="#000" stroke-width="1.1"/>
<polygon points="1867.70,1507.00 1870.90,1505.40 1873.50,1511.40 1870.30,1513.20" fill="#fff"/>
<line x1="1868.10" y1="1506.70" x2="1870.90" y2="1505.30" stroke="#000" stroke-width="1.0" />
<line x1="1870.70" y1="1513.10" x2="1873.50" y2="1511.60" stroke="#000" stroke-width="1.0" />
<ellipse cx="1866.50" cy="1511.60" rx="3.9" ry="5.3" transform="rotate(-30 1866.50 1511.60)" fill="#fff" stroke="#000" stroke-width="1.5"/>
<path d="M1863.90,1511.00 L1865.30,1509.80 L1865.90,1512.20 L1867.90,1513.40 L1866.90,1514.80 L1864.70,1514.40 Z" stroke="#000" stroke-width="0.8" fill="#000" />
<ellipse cx="1871.90" cy="1586.80" rx="2.7" ry="3.3" transform="rotate(-28 1871.90 1586.80)" fill="#fff" stroke="#000" stroke-width="1.1"/>
<polygon points="1867.70,1585.10 1870.90,1583.50 1873.50,1589.50 1870.30,1591.30" fill="#fff"/>
<line x1="1868.10" y1="1584.80" x2="1870.90" y2="1583.40" stroke="#000" stroke-width="1.0" />
<line x1="1870.70" y1="1591.20" x2="1873.50" y2="1589.70" stroke="#000" stroke-width="1.0" />
<ellipse cx="1866.50" cy="1589.70" rx="3.9" ry="5.3" transform="rotate(-30 1866.50 1589.70)" fill="#fff" stroke="#000" stroke-width="1.5"/>
<path d="M1863.90,1589.10 L1865.30,1587.90 L1865.90,1590.30 L1867.90,1591.50 L1866.90,1592.90 L1864.70,1592.50 Z" stroke="#000" stroke-width="0.8" fill="#000" />
</g>
</g>
</svg>
</body></html>
